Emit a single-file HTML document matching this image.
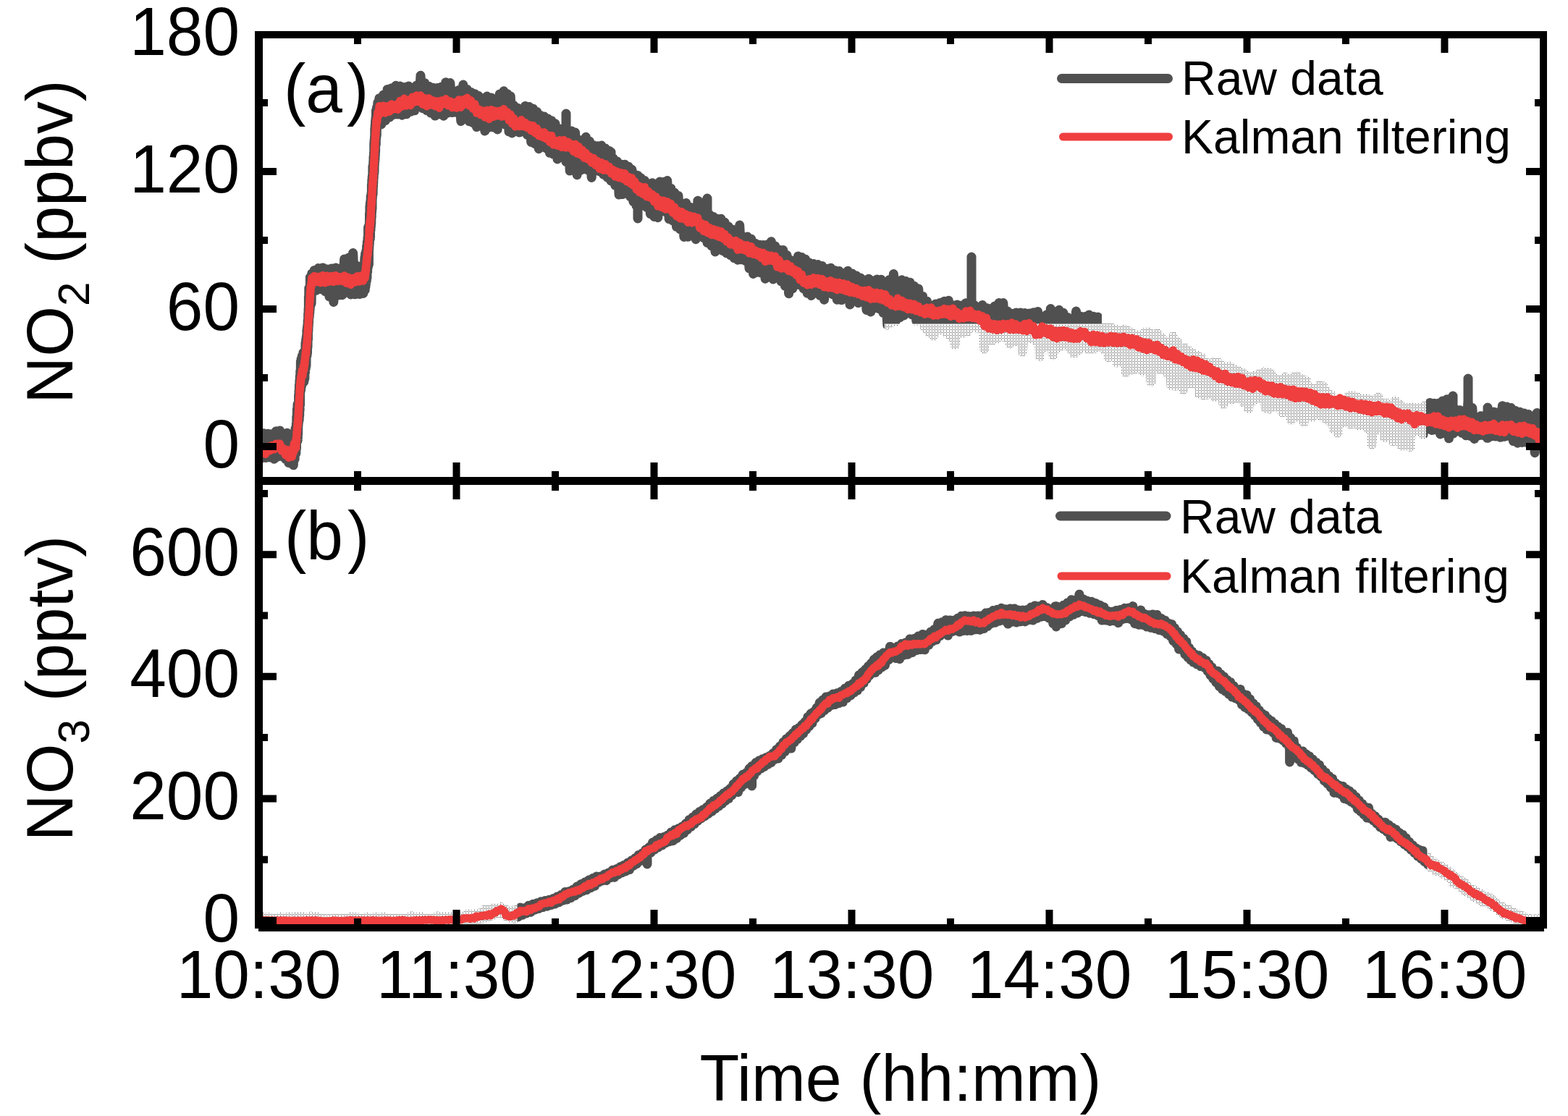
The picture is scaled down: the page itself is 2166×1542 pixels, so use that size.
<!DOCTYPE html>
<html><head><meta charset="utf-8"><title>NO2 / NO3 time series</title>
<style>
html,body{margin:0;padding:0;background:#fff;}
body{width:2166px;height:1542px;overflow:hidden;}
svg{display:block;}
text{font-family:'Liberation Sans',Arial,sans-serif;}
</style></head>
<body>
<svg width="2166" height="1542" viewBox="0 0 2166 1542">
<defs>
<pattern id="dots" x="1" y="3" width="4" height="4" patternUnits="userSpaceOnUse">
<rect x="0" y="0" width="1" height="1" fill="#444444"/>
<rect x="2" y="0" width="1" height="1" fill="#444444"/>
<rect x="2" y="2" width="1" height="1" fill="#444444"/>
</pattern>
<clipPath id="ca"><rect x="363" y="53" width="1764" height="606"/></clipPath>
<clipPath id="cb"><rect x="363" y="670" width="1764" height="607"/></clipPath>
<clipPath id="ca_dark"><path d="M363 53H2127V659H363Z M1222 447H1522V40H1970V670H1222Z" clip-rule="evenodd"/></clipPath>
<clipPath id="ca_dot"><rect x="1222" y="447" width="748" height="212"/></clipPath>
<clipPath id="cb_dark"><rect x="714.5" y="670" width="1256.5" height="607"/></clipPath>
<clipPath id="cb_dot"><path d="M363 670H714.5V1277H363Z M1971 670H2127V1277H1971Z"/></clipPath>
</defs>
<rect width="2166" height="1542" fill="#fff"/>
<g fill="none" stroke-linejoin="round" stroke-linecap="round">
<g clip-path="url(#ca)">
<g clip-path="url(#ca_dark)"><path d="M355.0 635.5L358.0 601.8L361.0 632.9L364.0 598.8L367.0 632.6L369.9 599.2L372.9 632.0L375.9 599.6L378.8 634.3L381.4 595.7L384.0 631.0L386.6 594.9L389.1 630.4L391.7 600.3L394.3 634.3L396.5 598.2L398.7 639.5L401.5 610.2L403.5 641.2L404.4 603.9L405.3 642.8L406.2 599.7L407.1 634.6L408.0 591.9L408.9 626.3L409.3 585.6L409.5 620.4L409.8 576.2L410.1 609.5L410.4 564.8L410.7 609.9L411.0 558.7L411.3 607.9L411.5 563.2L411.7 600.3L411.9 560.5L412.0 588.5L412.2 555.9L412.4 584.3L412.6 545.7L412.8 577.0L413.0 539.8L413.2 580.5L413.4 532.3L413.7 574.5L413.9 525.5L414.1 567.2L414.3 520.0L414.6 559.6L414.8 513.0L415.1 541.2L415.4 499.4L415.7 538.6L416.1 496.1L416.4 534.1L417.2 492.0L418.1 529.4L419.0 487.3L419.8 527.6L420.6 493.9L420.9 523.1L421.3 486.0L421.6 514.6L422.0 473.7L422.3 509.3L422.7 468.7L423.0 505.5L423.3 464.9L423.6 492.8L423.9 456.0L424.1 491.0L424.3 453.4L424.5 488.2L424.8 450.1L425.0 480.0L425.2 442.7L425.5 469.3L425.7 434.0L425.9 457.7L426.1 426.3L426.3 451.4L426.4 409.7L426.6 445.7L426.8 398.0L427.0 439.0L427.2 410.5L427.4 437.4L427.6 405.4L427.8 432.2L428.0 396.9L428.2 427.6L428.4 383.0L428.6 420.4L428.8 387.6L429.1 421.9L429.6 383.4L430.1 419.1L430.6 378.0L431.3 404.6L434.1 373.6L436.9 401.2L439.9 370.6L442.9 399.4L445.9 369.9L448.9 402.5L451.9 371.9L454.9 409.8L457.9 370.9L460.8 417.4L463.8 370.0L466.8 408.0L469.8 370.9L472.7 407.8L475.7 357.9L478.7 402.1L481.6 356.1L484.6 407.0L487.6 349.5L490.6 406.8L493.5 367.5L496.5 406.4L499.5 368.3L501.8 405.5L503.9 355.8L504.3 400.6L504.6 350.6L505.0 396.1L505.3 349.1L505.6 391.9L506.0 346.2L506.3 388.1L506.6 340.2L507.0 384.0L507.3 334.4L507.6 376.0L508.0 328.4L508.3 369.7L508.6 313.8L509.0 365.1L509.2 317.3L509.4 365.6L509.6 314.0L509.8 344.3L510.0 310.3L510.3 338.4L510.5 294.6L510.7 330.5L510.9 284.5L511.1 322.5L511.3 280.6L511.5 329.4L511.8 277.6L512.0 318.3L512.2 270.8L512.4 313.1L512.6 272.2L512.8 308.8L513.0 266.6L513.2 300.5L513.4 255.3L513.6 293.0L513.8 248.7L514.0 289.0L514.2 244.3L514.3 274.7L514.5 242.4L514.7 270.2L514.9 229.7L515.1 268.5L515.3 231.1L515.5 259.9L515.7 224.0L515.8 252.8L516.0 217.2L516.2 246.0L516.4 211.4L516.6 239.6L516.8 197.4L517.0 238.9L517.1 194.1L517.3 228.3L517.5 189.3L517.6 223.8L517.8 178.2L518.0 221.4L518.1 173.4L518.3 215.2L518.5 167.6L518.6 209.9L518.8 165.4L519.0 199.3L519.1 161.7L519.3 199.6L519.5 152.5L519.7 191.6L520.0 151.5L520.3 187.1L520.6 148.3L520.9 175.9L521.8 141.8L522.9 169.2L523.9 135.7L526.7 172.0L529.5 131.1L532.4 166.8L535.2 123.5L538.1 162.1L540.9 121.7L543.8 158.5L546.7 118.3L549.6 158.0L552.5 119.1L555.4 159.2L558.4 120.4L561.3 157.7L564.2 119.1L567.1 154.2L569.8 122.0L572.6 152.8L575.4 118.0L578.2 147.6L581.0 104.3L583.8 149.7L586.6 114.8L589.4 152.6L592.2 119.3L595.0 156.1L597.9 121.3L600.9 160.0L603.9 121.5L606.9 157.8L609.8 119.9L612.8 160.2L615.8 113.7L618.8 155.9L621.8 114.6L624.8 155.5L627.8 126.0L630.8 155.5L633.8 124.5L636.8 167.5L639.8 117.1L642.7 161.7L645.4 123.5L648.0 167.7L650.6 127.4L653.3 169.7L655.9 129.7L658.5 175.6L661.2 132.6L663.9 172.6L666.8 135.9L669.8 181.0L672.7 133.0L675.6 175.9L678.5 134.9L681.4 175.9L684.3 137.2L687.2 178.9L690.1 130.0L693.0 169.9L695.9 125.8L698.6 172.6L700.8 129.7L703.0 182.0L705.2 132.9L707.4 183.9L709.6 145.5L711.9 178.2L714.6 149.3L717.3 183.1L720.1 152.0L722.8 181.6L725.5 146.4L728.3 186.3L731.0 147.6L733.7 196.4L736.5 150.2L739.2 198.8L741.7 154.4L744.3 205.7L746.8 159.5L749.3 199.0L751.8 161.1L754.4 204.9L756.9 164.0L759.4 211.3L761.9 166.7L764.5 213.1L767.0 170.8L770.0 220.0L772.9 177.9L775.9 216.3L778.9 180.0L782.0 223.5L782.0 157.0L782.0 223.5L781.9 223.5L784.7 182.0L787.2 236.1L789.7 181.1L792.1 230.1L794.6 183.0L797.1 241.8L799.5 193.2L802.0 235.3L804.5 193.5L807.0 233.6L809.4 189.3L811.9 235.0L814.5 195.3L817.2 245.4L820.0 200.8L822.7 235.1L825.4 201.8L828.1 236.8L830.9 201.1L833.6 241.2L836.3 205.0L839.0 245.2L841.7 208.4L844.0 250.0L844.0 210.0L844.0 250.0L844.4 250.0L847.1 218.9L849.7 256.0L852.4 222.9L855.1 269.1L857.7 227.0L860.4 268.5L863.1 227.2L865.7 267.3L868.4 230.3L870.8 271.9L872.9 234.2L874.9 278.7L877.0 241.2L879.0 284.2L881.0 242.5L881.0 302.0L881.0 242.5L881.1 242.5L883.1 283.6L885.5 246.0L888.1 283.9L890.6 249.6L893.2 286.4L895.8 254.0L898.4 295.6L901.0 252.7L903.6 299.4L906.2 258.3L908.8 300.7L911.4 251.0L914.0 289.0L916.5 251.6L919.1 292.7L921.7 249.5L924.2 302.6L926.8 260.2L929.3 305.0L931.9 266.2L934.5 313.3L937.0 270.4L939.6 316.9L942.2 285.4L944.9 327.4L947.7 280.4L950.4 327.3L953.1 286.2L955.8 322.5L958.5 287.1L961.2 330.7L963.9 277.2L966.6 324.6L969.3 279.9L972.0 328.7L974.6 282.8L977.0 335.5L977.0 274.0L977.0 335.5L977.3 335.5L980.0 296.4L982.6 339.7L985.3 299.4L988.0 347.9L990.6 302.2L993.3 340.8L996.0 302.2L998.6 346.6L1001.2 307.3L1003.7 349.8L1006.3 312.9L1008.9 352.6L1011.4 316.9L1014.0 356.5L1016.6 317.8L1019.1 359.2L1021.7 311.0L1024.3 358.8L1026.9 329.1L1029.6 360.4L1032.3 326.9L1035.0 370.8L1037.8 330.2L1040.5 378.5L1043.2 336.2L1046.0 376.3L1048.8 338.2L1051.5 377.1L1054.3 338.5L1057.1 385.2L1059.8 337.9L1062.6 378.8L1065.4 333.7L1068.1 386.0L1070.8 339.9L1073.6 377.0L1076.3 345.3L1079.1 388.8L1081.8 345.6L1084.4 395.2L1087.0 352.6L1089.6 405.8L1092.2 359.6L1094.8 398.9L1097.4 360.8L1099.9 393.8L1102.5 353.9L1105.0 393.7L1107.6 355.5L1110.1 398.9L1112.7 358.3L1115.2 405.2L1117.9 363.0L1120.8 408.5L1123.8 364.5L1126.7 403.9L1129.7 365.6L1132.6 408.3L1135.6 367.4L1138.5 414.2L1141.5 371.6L1144.4 404.8L1147.4 370.2L1150.3 406.9L1153.3 373.8L1156.3 414.2L1159.3 374.6L1162.2 414.6L1165.2 377.8L1168.2 411.9L1171.2 374.2L1174.1 421.0L1177.0 378.0L1179.9 409.8L1182.7 381.0L1185.6 418.5L1188.4 384.0L1191.3 416.6L1194.2 387.1L1197.0 428.4L1199.9 385.2L1202.8 430.9L1205.6 388.0L1208.5 425.7L1211.4 385.9L1214.3 426.7L1217.1 386.2L1220.0 432.3L1222.9 390.8L1225.8 449.3L1228.7 386.4L1231.5 445.5L1234.4 378.6L1237.2 444.1L1240.0 387.8L1242.9 438.8L1245.7 386.8L1248.6 436.0L1251.4 388.5L1254.2 430.9L1257.1 390.2L1259.9 435.0L1262.8 395.3L1265.8 443.4L1268.7 398.9L1271.7 442.5L1274.6 409.5L1277.6 453.6L1280.5 416.2L1283.5 460.1L1286.4 422.5L1289.4 464.2L1292.4 419.9L1295.4 456.7L1298.3 418.4L1301.3 454.4L1304.3 416.2L1307.3 460.2L1310.3 415.2L1313.3 465.4L1316.3 421.8L1319.3 476.7L1322.2 421.0L1325.2 461.1L1328.2 421.9L1331.2 460.0L1334.2 418.7L1337.2 458.1L1340.2 417.7L1342.0 447.9L1342.0 355.0L1342.0 447.9L1343.0 447.9L1345.8 421.8L1348.6 453.0L1351.4 425.3L1354.2 453.9L1357.0 421.6L1359.8 482.2L1362.6 425.5L1365.4 470.4L1368.2 426.4L1371.1 470.5L1374.1 422.9L1377.0 467.9L1379.9 418.6L1382.9 464.1L1385.8 418.6L1388.8 466.2L1391.7 430.0L1394.7 475.2L1397.6 433.2L1400.6 471.5L1403.6 432.0L1406.6 472.6L1409.6 431.9L1412.6 486.2L1415.6 432.4L1418.6 465.8L1421.6 433.0L1424.6 468.6L1427.6 431.7L1430.6 470.7L1433.5 430.4L1436.5 493.0L1439.5 437.7L1442.4 479.9L1445.4 435.1L1448.4 476.4L1451.3 426.5L1454.3 490.9L1457.2 431.1L1460.1 481.6L1463.0 428.3L1465.9 478.2L1468.9 432.3L1471.8 475.9L1474.7 438.4L1477.6 481.6L1480.5 443.6L1483.5 488.6L1486.5 430.0L1489.5 484.8L1492.5 437.1L1495.4 480.8L1498.4 437.4L1501.4 481.5L1504.4 435.0L1507.4 482.6L1510.4 437.2L1513.4 481.2L1516.4 437.9L1519.4 477.8L1522.4 447.1L1525.3 482.8L1528.3 450.6L1531.3 493.8L1534.3 452.4L1537.3 489.0L1540.2 454.7L1543.2 501.1L1546.2 457.7L1549.2 498.6L1552.2 455.0L1555.2 514.7L1558.2 457.2L1561.2 511.6L1564.2 459.8L1567.2 510.6L1570.1 463.2L1572.9 501.7L1575.7 464.1L1578.6 512.9L1581.4 459.4L1584.3 506.8L1587.1 459.3L1589.9 527.3L1592.8 462.0L1595.6 509.3L1598.4 460.6L1601.2 509.8L1604.0 466.4L1606.8 510.4L1609.5 472.1L1612.3 515.1L1615.1 470.9L1617.9 532.7L1620.7 464.7L1623.5 533.3L1626.2 472.3L1628.9 518.2L1631.6 481.6L1634.3 538.9L1637.0 481.1L1639.8 530.6L1642.6 485.2L1645.5 530.9L1648.3 488.8L1651.2 529.6L1654.1 491.1L1656.9 544.8L1659.7 494.3L1662.5 546.0L1665.2 500.0L1667.9 545.3L1670.7 504.0L1673.4 544.6L1676.1 500.1L1678.8 548.8L1681.6 500.2L1684.3 543.5L1687.0 504.6L1689.9 558.3L1692.8 506.2L1695.7 546.6L1698.6 506.0L1701.4 552.7L1704.3 509.7L1707.2 550.1L1710.1 512.3L1713.0 551.1L1715.9 514.8L1718.8 556.6L1721.7 518.1L1724.7 564.8L1727.6 521.7L1730.6 553.8L1733.5 518.9L1736.5 549.2L1739.4 516.4L1742.4 551.3L1745.3 514.0L1748.2 564.2L1751.2 514.2L1754.1 565.3L1757.1 517.6L1760.0 549.8L1762.9 523.3L1765.9 563.1L1768.8 526.5L1771.8 570.3L1774.7 521.2L1777.7 569.5L1780.6 522.8L1783.5 580.4L1786.5 521.3L1789.4 576.8L1792.4 520.0L1795.3 557.3L1798.3 523.8L1801.2 583.3L1804.2 526.1L1807.1 564.7L1810.1 535.4L1813.0 575.8L1816.0 537.6L1818.9 568.7L1821.9 532.6L1824.8 574.9L1827.8 533.8L1830.7 578.1L1833.6 541.2L1836.5 581.8L1839.4 546.3L1842.3 592.5L1845.1 552.6L1848.0 598.1L1850.9 551.5L1853.8 584.9L1856.7 554.1L1859.6 582.9L1862.6 547.5L1865.5 586.4L1868.5 547.3L1871.5 585.2L1874.4 548.8L1877.4 587.7L1880.3 550.9L1883.3 585.9L1886.2 550.7L1889.2 592.0L1892.2 551.7L1895.1 614.1L1898.1 553.5L1901.1 594.8L1904.0 548.9L1907.0 586.0L1910.0 557.1L1912.9 604.8L1915.9 557.5L1918.8 599.8L1921.7 558.3L1924.5 609.9L1927.4 554.0L1930.3 609.5L1933.3 558.7L1936.2 616.3L1939.2 562.3L1942.1 605.5L1945.1 563.6L1948.1 617.5L1951.1 562.3L1954.0 596.5L1957.0 563.5L1960.0 595.7L1963.0 562.7L1966.0 600.2L1969.0 560.5L1971.9 592.8L1974.9 556.6L1977.8 594.4L1980.8 557.2L1983.7 593.8L1986.6 557.3L1989.6 599.9L1992.5 554.1L1995.5 598.5L1998.5 551.8L2001.5 605.8L2004.5 563.2L2007.0 599.1L2007.0 547.0L2007.0 599.1L2007.5 599.1L2010.5 565.8L2013.5 595.7L2016.5 566.7L2019.4 598.2L2022.3 571.7L2025.1 601.8L2028.0 553.6L2028.0 523.0L2028.0 553.6L2028.0 553.6L2030.9 602.5L2033.8 563.6L2036.6 606.4L2039.5 576.8L2042.5 601.7L2045.5 574.8L2048.5 601.5L2051.5 575.3L2055.0 605.3L2055.0 563.0L2055.0 605.3L2054.5 605.3L2057.5 572.7L2060.5 602.9L2063.5 569.1L2066.5 603.0L2069.5 569.8L2072.5 604.2L2075.4 560.7L2078.4 603.3L2081.4 561.9L2084.4 602.3L2087.4 563.6L2090.4 609.5L2093.4 567.4L2096.4 612.2L2099.4 569.2L2102.4 611.4L2105.4 570.9L2108.4 611.3L2111.4 572.5L2114.3 614.8L2117.2 575.5L2120.2 625.7L2123.1 570.5L2126.1 609.8L2129.0 572.7L2132.0 618.6L2135.0 574.9" stroke="#505050" stroke-width="13"/></g>
<g clip-path="url(#ca_dot)"><path d="M355.0 635.5L358.0 601.8L361.0 632.9L364.0 598.8L367.0 632.6L369.9 599.2L372.9 632.0L375.9 599.6L378.8 634.3L381.4 595.7L384.0 631.0L386.6 594.9L389.1 630.4L391.7 600.3L394.3 634.3L396.5 598.2L398.7 639.5L401.5 610.2L403.5 641.2L404.4 603.9L405.3 642.8L406.2 599.7L407.1 634.6L408.0 591.9L408.9 626.3L409.3 585.6L409.5 620.4L409.8 576.2L410.1 609.5L410.4 564.8L410.7 609.9L411.0 558.7L411.3 607.9L411.5 563.2L411.7 600.3L411.9 560.5L412.0 588.5L412.2 555.9L412.4 584.3L412.6 545.7L412.8 577.0L413.0 539.8L413.2 580.5L413.4 532.3L413.7 574.5L413.9 525.5L414.1 567.2L414.3 520.0L414.6 559.6L414.8 513.0L415.1 541.2L415.4 499.4L415.7 538.6L416.1 496.1L416.4 534.1L417.2 492.0L418.1 529.4L419.0 487.3L419.8 527.6L420.6 493.9L420.9 523.1L421.3 486.0L421.6 514.6L422.0 473.7L422.3 509.3L422.7 468.7L423.0 505.5L423.3 464.9L423.6 492.8L423.9 456.0L424.1 491.0L424.3 453.4L424.5 488.2L424.8 450.1L425.0 480.0L425.2 442.7L425.5 469.3L425.7 434.0L425.9 457.7L426.1 426.3L426.3 451.4L426.4 409.7L426.6 445.7L426.8 398.0L427.0 439.0L427.2 410.5L427.4 437.4L427.6 405.4L427.8 432.2L428.0 396.9L428.2 427.6L428.4 383.0L428.6 420.4L428.8 387.6L429.1 421.9L429.6 383.4L430.1 419.1L430.6 378.0L431.3 404.6L434.1 373.6L436.9 401.2L439.9 370.6L442.9 399.4L445.9 369.9L448.9 402.5L451.9 371.9L454.9 409.8L457.9 370.9L460.8 417.4L463.8 370.0L466.8 408.0L469.8 370.9L472.7 407.8L475.7 357.9L478.7 402.1L481.6 356.1L484.6 407.0L487.6 349.5L490.6 406.8L493.5 367.5L496.5 406.4L499.5 368.3L501.8 405.5L503.9 355.8L504.3 400.6L504.6 350.6L505.0 396.1L505.3 349.1L505.6 391.9L506.0 346.2L506.3 388.1L506.6 340.2L507.0 384.0L507.3 334.4L507.6 376.0L508.0 328.4L508.3 369.7L508.6 313.8L509.0 365.1L509.2 317.3L509.4 365.6L509.6 314.0L509.8 344.3L510.0 310.3L510.3 338.4L510.5 294.6L510.7 330.5L510.9 284.5L511.1 322.5L511.3 280.6L511.5 329.4L511.8 277.6L512.0 318.3L512.2 270.8L512.4 313.1L512.6 272.2L512.8 308.8L513.0 266.6L513.2 300.5L513.4 255.3L513.6 293.0L513.8 248.7L514.0 289.0L514.2 244.3L514.3 274.7L514.5 242.4L514.7 270.2L514.9 229.7L515.1 268.5L515.3 231.1L515.5 259.9L515.7 224.0L515.8 252.8L516.0 217.2L516.2 246.0L516.4 211.4L516.6 239.6L516.8 197.4L517.0 238.9L517.1 194.1L517.3 228.3L517.5 189.3L517.6 223.8L517.8 178.2L518.0 221.4L518.1 173.4L518.3 215.2L518.5 167.6L518.6 209.9L518.8 165.4L519.0 199.3L519.1 161.7L519.3 199.6L519.5 152.5L519.7 191.6L520.0 151.5L520.3 187.1L520.6 148.3L520.9 175.9L521.8 141.8L522.9 169.2L523.9 135.7L526.7 172.0L529.5 131.1L532.4 166.8L535.2 123.5L538.1 162.1L540.9 121.7L543.8 158.5L546.7 118.3L549.6 158.0L552.5 119.1L555.4 159.2L558.4 120.4L561.3 157.7L564.2 119.1L567.1 154.2L569.8 122.0L572.6 152.8L575.4 118.0L578.2 147.6L581.0 104.3L583.8 149.7L586.6 114.8L589.4 152.6L592.2 119.3L595.0 156.1L597.9 121.3L600.9 160.0L603.9 121.5L606.9 157.8L609.8 119.9L612.8 160.2L615.8 113.7L618.8 155.9L621.8 114.6L624.8 155.5L627.8 126.0L630.8 155.5L633.8 124.5L636.8 167.5L639.8 117.1L642.7 161.7L645.4 123.5L648.0 167.7L650.6 127.4L653.3 169.7L655.9 129.7L658.5 175.6L661.2 132.6L663.9 172.6L666.8 135.9L669.8 181.0L672.7 133.0L675.6 175.9L678.5 134.9L681.4 175.9L684.3 137.2L687.2 178.9L690.1 130.0L693.0 169.9L695.9 125.8L698.6 172.6L700.8 129.7L703.0 182.0L705.2 132.9L707.4 183.9L709.6 145.5L711.9 178.2L714.6 149.3L717.3 183.1L720.1 152.0L722.8 181.6L725.5 146.4L728.3 186.3L731.0 147.6L733.7 196.4L736.5 150.2L739.2 198.8L741.7 154.4L744.3 205.7L746.8 159.5L749.3 199.0L751.8 161.1L754.4 204.9L756.9 164.0L759.4 211.3L761.9 166.7L764.5 213.1L767.0 170.8L770.0 220.0L772.9 177.9L775.9 216.3L778.9 180.0L782.0 223.5L782.0 157.0L782.0 223.5L781.9 223.5L784.7 182.0L787.2 236.1L789.7 181.1L792.1 230.1L794.6 183.0L797.1 241.8L799.5 193.2L802.0 235.3L804.5 193.5L807.0 233.6L809.4 189.3L811.9 235.0L814.5 195.3L817.2 245.4L820.0 200.8L822.7 235.1L825.4 201.8L828.1 236.8L830.9 201.1L833.6 241.2L836.3 205.0L839.0 245.2L841.7 208.4L844.0 250.0L844.0 210.0L844.0 250.0L844.4 250.0L847.1 218.9L849.7 256.0L852.4 222.9L855.1 269.1L857.7 227.0L860.4 268.5L863.1 227.2L865.7 267.3L868.4 230.3L870.8 271.9L872.9 234.2L874.9 278.7L877.0 241.2L879.0 284.2L881.0 242.5L881.0 302.0L881.0 242.5L881.1 242.5L883.1 283.6L885.5 246.0L888.1 283.9L890.6 249.6L893.2 286.4L895.8 254.0L898.4 295.6L901.0 252.7L903.6 299.4L906.2 258.3L908.8 300.7L911.4 251.0L914.0 289.0L916.5 251.6L919.1 292.7L921.7 249.5L924.2 302.6L926.8 260.2L929.3 305.0L931.9 266.2L934.5 313.3L937.0 270.4L939.6 316.9L942.2 285.4L944.9 327.4L947.7 280.4L950.4 327.3L953.1 286.2L955.8 322.5L958.5 287.1L961.2 330.7L963.9 277.2L966.6 324.6L969.3 279.9L972.0 328.7L974.6 282.8L977.0 335.5L977.0 274.0L977.0 335.5L977.3 335.5L980.0 296.4L982.6 339.7L985.3 299.4L988.0 347.9L990.6 302.2L993.3 340.8L996.0 302.2L998.6 346.6L1001.2 307.3L1003.7 349.8L1006.3 312.9L1008.9 352.6L1011.4 316.9L1014.0 356.5L1016.6 317.8L1019.1 359.2L1021.7 311.0L1024.3 358.8L1026.9 329.1L1029.6 360.4L1032.3 326.9L1035.0 370.8L1037.8 330.2L1040.5 378.5L1043.2 336.2L1046.0 376.3L1048.8 338.2L1051.5 377.1L1054.3 338.5L1057.1 385.2L1059.8 337.9L1062.6 378.8L1065.4 333.7L1068.1 386.0L1070.8 339.9L1073.6 377.0L1076.3 345.3L1079.1 388.8L1081.8 345.6L1084.4 395.2L1087.0 352.6L1089.6 405.8L1092.2 359.6L1094.8 398.9L1097.4 360.8L1099.9 393.8L1102.5 353.9L1105.0 393.7L1107.6 355.5L1110.1 398.9L1112.7 358.3L1115.2 405.2L1117.9 363.0L1120.8 408.5L1123.8 364.5L1126.7 403.9L1129.7 365.6L1132.6 408.3L1135.6 367.4L1138.5 414.2L1141.5 371.6L1144.4 404.8L1147.4 370.2L1150.3 406.9L1153.3 373.8L1156.3 414.2L1159.3 374.6L1162.2 414.6L1165.2 377.8L1168.2 411.9L1171.2 374.2L1174.1 421.0L1177.0 378.0L1179.9 409.8L1182.7 381.0L1185.6 418.5L1188.4 384.0L1191.3 416.6L1194.2 387.1L1197.0 428.4L1199.9 385.2L1202.8 430.9L1205.6 388.0L1208.5 425.7L1211.4 385.9L1214.3 426.7L1217.1 386.2L1220.0 432.3L1222.9 390.8L1225.8 449.3L1228.7 386.4L1231.5 445.5L1234.4 378.6L1237.2 444.1L1240.0 387.8L1242.9 438.8L1245.7 386.8L1248.6 436.0L1251.4 388.5L1254.2 430.9L1257.1 390.2L1259.9 435.0L1262.8 395.3L1265.8 443.4L1268.7 398.9L1271.7 442.5L1274.6 409.5L1277.6 453.6L1280.5 416.2L1283.5 460.1L1286.4 422.5L1289.4 464.2L1292.4 419.9L1295.4 456.7L1298.3 418.4L1301.3 454.4L1304.3 416.2L1307.3 460.2L1310.3 415.2L1313.3 465.4L1316.3 421.8L1319.3 476.7L1322.2 421.0L1325.2 461.1L1328.2 421.9L1331.2 460.0L1334.2 418.7L1337.2 458.1L1340.2 417.7L1342.0 447.9L1342.0 355.0L1342.0 447.9L1343.0 447.9L1345.8 421.8L1348.6 453.0L1351.4 425.3L1354.2 453.9L1357.0 421.6L1359.8 482.2L1362.6 425.5L1365.4 470.4L1368.2 426.4L1371.1 470.5L1374.1 422.9L1377.0 467.9L1379.9 418.6L1382.9 464.1L1385.8 418.6L1388.8 466.2L1391.7 430.0L1394.7 475.2L1397.6 433.2L1400.6 471.5L1403.6 432.0L1406.6 472.6L1409.6 431.9L1412.6 486.2L1415.6 432.4L1418.6 465.8L1421.6 433.0L1424.6 468.6L1427.6 431.7L1430.6 470.7L1433.5 430.4L1436.5 493.0L1439.5 437.7L1442.4 479.9L1445.4 435.1L1448.4 476.4L1451.3 426.5L1454.3 490.9L1457.2 431.1L1460.1 481.6L1463.0 428.3L1465.9 478.2L1468.9 432.3L1471.8 475.9L1474.7 438.4L1477.6 481.6L1480.5 443.6L1483.5 488.6L1486.5 430.0L1489.5 484.8L1492.5 437.1L1495.4 480.8L1498.4 437.4L1501.4 481.5L1504.4 435.0L1507.4 482.6L1510.4 437.2L1513.4 481.2L1516.4 437.9L1519.4 477.8L1522.4 447.1L1525.3 482.8L1528.3 450.6L1531.3 493.8L1534.3 452.4L1537.3 489.0L1540.2 454.7L1543.2 501.1L1546.2 457.7L1549.2 498.6L1552.2 455.0L1555.2 514.7L1558.2 457.2L1561.2 511.6L1564.2 459.8L1567.2 510.6L1570.1 463.2L1572.9 501.7L1575.7 464.1L1578.6 512.9L1581.4 459.4L1584.3 506.8L1587.1 459.3L1589.9 527.3L1592.8 462.0L1595.6 509.3L1598.4 460.6L1601.2 509.8L1604.0 466.4L1606.8 510.4L1609.5 472.1L1612.3 515.1L1615.1 470.9L1617.9 532.7L1620.7 464.7L1623.5 533.3L1626.2 472.3L1628.9 518.2L1631.6 481.6L1634.3 538.9L1637.0 481.1L1639.8 530.6L1642.6 485.2L1645.5 530.9L1648.3 488.8L1651.2 529.6L1654.1 491.1L1656.9 544.8L1659.7 494.3L1662.5 546.0L1665.2 500.0L1667.9 545.3L1670.7 504.0L1673.4 544.6L1676.1 500.1L1678.8 548.8L1681.6 500.2L1684.3 543.5L1687.0 504.6L1689.9 558.3L1692.8 506.2L1695.7 546.6L1698.6 506.0L1701.4 552.7L1704.3 509.7L1707.2 550.1L1710.1 512.3L1713.0 551.1L1715.9 514.8L1718.8 556.6L1721.7 518.1L1724.7 564.8L1727.6 521.7L1730.6 553.8L1733.5 518.9L1736.5 549.2L1739.4 516.4L1742.4 551.3L1745.3 514.0L1748.2 564.2L1751.2 514.2L1754.1 565.3L1757.1 517.6L1760.0 549.8L1762.9 523.3L1765.9 563.1L1768.8 526.5L1771.8 570.3L1774.7 521.2L1777.7 569.5L1780.6 522.8L1783.5 580.4L1786.5 521.3L1789.4 576.8L1792.4 520.0L1795.3 557.3L1798.3 523.8L1801.2 583.3L1804.2 526.1L1807.1 564.7L1810.1 535.4L1813.0 575.8L1816.0 537.6L1818.9 568.7L1821.9 532.6L1824.8 574.9L1827.8 533.8L1830.7 578.1L1833.6 541.2L1836.5 581.8L1839.4 546.3L1842.3 592.5L1845.1 552.6L1848.0 598.1L1850.9 551.5L1853.8 584.9L1856.7 554.1L1859.6 582.9L1862.6 547.5L1865.5 586.4L1868.5 547.3L1871.5 585.2L1874.4 548.8L1877.4 587.7L1880.3 550.9L1883.3 585.9L1886.2 550.7L1889.2 592.0L1892.2 551.7L1895.1 614.1L1898.1 553.5L1901.1 594.8L1904.0 548.9L1907.0 586.0L1910.0 557.1L1912.9 604.8L1915.9 557.5L1918.8 599.8L1921.7 558.3L1924.5 609.9L1927.4 554.0L1930.3 609.5L1933.3 558.7L1936.2 616.3L1939.2 562.3L1942.1 605.5L1945.1 563.6L1948.1 617.5L1951.1 562.3L1954.0 596.5L1957.0 563.5L1960.0 595.7L1963.0 562.7L1966.0 600.2L1969.0 560.5L1971.9 592.8L1974.9 556.6L1977.8 594.4L1980.8 557.2L1983.7 593.8L1986.6 557.3L1989.6 599.9L1992.5 554.1L1995.5 598.5L1998.5 551.8L2001.5 605.8L2004.5 563.2L2007.0 599.1L2007.0 547.0L2007.0 599.1L2007.5 599.1L2010.5 565.8L2013.5 595.7L2016.5 566.7L2019.4 598.2L2022.3 571.7L2025.1 601.8L2028.0 553.6L2028.0 523.0L2028.0 553.6L2028.0 553.6L2030.9 602.5L2033.8 563.6L2036.6 606.4L2039.5 576.8L2042.5 601.7L2045.5 574.8L2048.5 601.5L2051.5 575.3L2055.0 605.3L2055.0 563.0L2055.0 605.3L2054.5 605.3L2057.5 572.7L2060.5 602.9L2063.5 569.1L2066.5 603.0L2069.5 569.8L2072.5 604.2L2075.4 560.7L2078.4 603.3L2081.4 561.9L2084.4 602.3L2087.4 563.6L2090.4 609.5L2093.4 567.4L2096.4 612.2L2099.4 569.2L2102.4 611.4L2105.4 570.9L2108.4 611.3L2111.4 572.5L2114.3 614.8L2117.2 575.5L2120.2 625.7L2123.1 570.5L2126.1 609.8L2129.0 572.7L2132.0 618.6L2135.0 574.9" stroke="url(#dots)" stroke-width="13"/></g>
<path d="M355.0 624.9L358.0 617.2L361.0 626.3L364.0 617.5L367.0 627.4L369.9 616.9L372.9 622.9L375.9 615.3L378.8 621.0L381.4 612.9L384.0 618.9L386.6 612.7L389.1 623.3L391.7 619.4L394.3 628.9L396.5 621.5L398.7 632.5L401.5 623.2L403.5 631.2L404.4 618.6L405.3 625.3L406.2 612.7L407.1 621.1L408.0 609.4L408.9 618.6L409.3 604.0L409.5 611.5L409.8 596.9L410.1 601.8L410.4 591.0L410.7 595.9L411.0 583.7L411.3 589.6L411.5 578.9L411.7 586.1L411.9 574.7L412.0 581.9L412.2 568.8L412.4 573.7L412.6 561.4L412.8 566.3L413.0 554.9L413.2 559.8L413.4 548.8L413.7 550.3L413.9 538.6L414.1 544.0L414.3 531.8L414.6 538.8L414.8 526.7L415.1 532.7L415.4 521.6L415.7 528.9L416.1 518.0L416.4 521.8L417.2 511.8L418.1 519.2L419.0 506.2L419.8 511.1L420.6 498.6L420.9 504.9L421.3 492.8L421.6 497.1L422.0 487.0L422.3 491.7L422.7 482.8L423.0 489.7L423.3 476.5L423.6 481.7L423.9 471.4L424.1 476.9L424.3 467.4L424.5 473.1L424.8 460.0L425.0 466.3L425.2 452.9L425.5 459.1L425.7 446.4L425.9 452.2L426.1 438.5L426.3 444.8L426.4 434.2L426.6 438.7L426.8 429.8L427.0 438.5L427.2 423.8L427.4 430.2L427.6 415.4L427.8 420.1L428.0 408.8L428.2 416.6L428.4 402.6L428.6 409.8L428.8 396.8L429.1 403.0L429.6 391.9L430.1 395.5L430.6 384.0L431.3 390.9L434.1 381.2L436.9 389.7L439.9 382.1L442.9 390.9L445.9 380.4L448.9 391.0L451.9 381.1L454.9 389.4L457.9 381.2L460.8 389.6L463.8 380.5L466.8 388.7L469.8 382.4L472.7 388.7L475.7 380.7L478.7 391.4L481.6 383.1L484.6 393.5L487.6 384.2L490.6 390.0L493.5 381.4L496.5 389.2L499.5 380.4L501.8 388.2L503.9 378.1L504.3 384.1L504.6 374.2L505.0 378.9L505.3 368.3L505.6 374.6L506.0 360.1L506.3 366.8L506.6 355.3L507.0 361.0L507.3 349.3L507.6 354.6L508.0 343.2L508.3 351.6L508.6 336.8L509.0 344.4L509.2 332.8L509.4 335.8L509.6 325.4L509.8 329.0L510.0 316.2L510.3 321.0L510.5 309.5L510.7 319.3L510.9 306.8L511.1 314.5L511.3 303.6L511.5 312.1L511.8 300.4L512.0 307.7L512.2 293.8L512.4 300.9L512.6 286.5L512.8 290.6L513.0 278.5L513.2 284.7L513.4 274.5L513.6 280.3L513.8 266.3L514.0 272.1L514.2 258.5L514.3 263.6L514.5 252.5L514.7 260.5L514.9 250.0L515.1 255.2L515.3 243.9L515.5 249.4L515.7 240.3L515.8 245.5L516.0 235.9L516.2 237.4L516.4 224.3L516.6 229.8L516.8 219.3L517.0 225.6L517.1 212.0L517.3 217.4L517.5 204.3L517.6 211.4L517.8 198.9L518.0 205.6L518.1 192.9L518.3 195.7L518.5 185.7L518.6 191.8L518.8 181.1L519.0 187.6L519.1 176.5L519.3 183.5L519.5 168.6L519.7 178.5L520.0 165.1L520.3 170.4L520.6 163.0L520.9 168.9L521.8 155.2L522.9 160.2L523.9 146.4L526.7 156.1L529.5 146.0L532.4 156.2L535.2 146.4L538.1 154.3L540.9 143.7L543.8 151.2L546.7 144.5L549.6 151.4L552.5 139.2L555.4 147.4L558.4 136.0L561.3 146.2L564.2 138.3L567.1 145.8L569.8 133.9L572.6 141.3L575.4 131.8L578.2 140.6L581.0 131.7L583.8 144.2L586.6 135.4L589.4 146.9L592.2 135.7L595.0 145.0L597.9 138.5L600.9 146.9L603.9 139.7L606.9 149.5L609.8 138.8L612.8 143.4L615.8 136.6L618.8 145.9L621.8 139.8L624.8 148.8L627.8 141.4L630.8 149.3L633.8 137.7L636.8 148.4L639.8 137.4L642.7 144.3L645.4 135.1L648.0 146.1L650.6 138.7L653.3 150.4L655.9 143.4L658.5 156.3L661.2 150.8L663.9 158.7L666.8 152.8L669.8 162.0L672.7 152.3L675.6 164.7L678.5 151.4L681.4 161.6L684.3 153.1L687.2 160.1L690.1 153.0L693.0 161.2L695.9 150.6L698.6 160.1L700.8 154.7L703.0 166.4L705.2 158.1L707.4 171.0L709.6 163.3L711.9 175.1L714.6 168.0L717.3 174.8L720.1 165.5L722.8 174.8L725.5 169.3L728.3 176.7L731.0 172.5L733.7 180.7L736.5 173.3L739.2 183.9L741.7 177.2L744.3 187.9L746.8 182.8L749.3 189.5L751.8 182.6L754.4 192.0L756.9 186.6L759.4 196.4L761.9 187.4L764.5 200.2L767.0 194.2L770.0 201.5L772.9 193.4L775.9 203.6L778.9 193.3L781.9 204.3L784.7 195.9L787.2 204.4L789.7 199.1L792.1 209.3L794.6 199.2L797.1 212.3L799.5 202.6L802.0 214.1L804.5 206.9L807.0 218.3L809.4 211.3L811.9 220.2L814.5 216.1L817.2 224.9L820.0 218.3L822.7 228.4L825.4 222.2L828.1 233.5L830.9 224.5L833.6 235.4L836.3 226.5L839.0 235.6L841.7 230.2L844.4 240.0L847.1 234.4L849.7 244.3L852.4 236.8L855.1 245.8L857.7 238.5L860.4 247.4L863.1 239.4L865.7 250.8L868.4 244.2L870.8 253.7L872.9 245.8L874.9 256.4L877.0 250.6L879.0 261.9L881.1 256.0L883.1 265.7L885.5 258.1L888.1 268.4L890.6 258.4L893.2 272.0L895.8 264.1L898.4 273.4L901.0 268.1L903.6 279.1L906.2 271.8L908.8 285.1L911.4 276.2L914.0 286.7L916.5 277.0L919.1 289.2L921.7 278.6L924.2 289.4L926.8 281.3L929.3 294.2L931.9 285.9L934.5 298.8L937.0 291.2L939.6 302.1L942.2 292.6L944.9 303.0L947.7 295.8L950.4 307.4L953.1 297.9L955.8 308.1L958.5 299.1L961.2 307.2L963.9 300.8L966.6 315.2L969.3 308.4L972.0 319.6L974.6 310.2L977.3 321.7L980.0 314.4L982.6 324.6L985.3 316.5L988.0 325.4L990.6 318.0L993.3 327.8L996.0 319.5L998.6 329.7L1001.2 323.3L1003.7 334.0L1006.3 328.0L1008.9 338.0L1011.4 332.6L1014.0 339.3L1016.6 332.3L1019.1 345.4L1021.7 335.4L1024.3 345.0L1026.9 338.1L1029.6 346.4L1032.3 338.6L1035.0 350.2L1037.8 340.6L1040.5 351.4L1043.2 345.8L1046.0 353.0L1048.8 348.0L1051.5 356.6L1054.3 349.1L1057.1 361.6L1059.8 352.0L1062.6 360.2L1065.4 353.0L1068.1 361.1L1070.8 354.0L1073.6 369.1L1076.3 359.0L1079.1 371.2L1081.8 364.8L1084.4 371.3L1087.0 364.4L1089.6 374.7L1092.2 367.7L1094.8 376.4L1097.4 372.0L1099.9 380.3L1102.5 374.6L1105.0 387.0L1107.6 379.0L1110.1 391.2L1112.7 385.9L1115.2 394.0L1117.9 385.6L1120.8 393.5L1123.8 383.6L1126.7 391.7L1129.7 384.3L1132.6 393.6L1135.6 385.2L1138.5 397.1L1141.5 388.6L1144.4 397.9L1147.4 387.6L1150.3 398.3L1153.3 389.7L1156.3 400.8L1159.3 390.3L1162.2 400.2L1165.2 391.5L1168.2 402.2L1171.2 393.1L1174.1 404.3L1177.0 396.2L1179.9 405.0L1182.7 398.2L1185.6 406.7L1188.4 400.9L1191.3 409.3L1194.2 401.2L1197.0 411.0L1199.9 400.4L1202.8 413.4L1205.6 403.8L1208.5 412.9L1211.4 404.1L1214.3 413.5L1217.1 405.0L1220.0 415.2L1222.9 406.6L1225.8 418.5L1228.7 412.8L1231.5 422.1L1234.4 416.6L1237.2 423.9L1240.0 411.9L1242.9 423.4L1245.7 414.9L1248.6 424.8L1251.4 418.1L1254.2 427.7L1257.1 418.9L1259.9 427.9L1262.8 420.1L1265.8 429.8L1268.7 423.1L1271.7 431.9L1274.6 427.0L1277.6 434.5L1280.5 425.0L1283.5 433.8L1286.4 424.8L1289.4 436.3L1292.4 429.2L1295.4 436.0L1298.3 428.7L1301.3 434.4L1304.3 426.2L1307.3 434.5L1310.3 427.0L1313.3 437.5L1316.3 426.1L1319.3 436.6L1322.2 431.1L1325.2 440.6L1328.2 433.9L1331.2 440.0L1334.2 429.8L1337.2 438.9L1340.2 429.1L1343.0 439.6L1345.8 433.7L1348.6 440.4L1351.4 434.3L1354.2 443.6L1357.0 436.6L1359.8 450.8L1362.6 439.2L1365.4 453.9L1368.2 446.4L1371.1 455.2L1374.1 447.5L1377.0 456.4L1379.9 448.0L1382.9 455.6L1385.8 447.1L1388.8 453.4L1391.7 447.4L1394.7 455.5L1397.6 445.8L1400.6 455.8L1403.6 447.8L1406.6 455.7L1409.6 450.3L1412.6 456.9L1415.6 447.2L1418.6 457.6L1421.6 446.2L1424.6 456.4L1427.6 450.4L1430.6 463.1L1433.5 455.8L1436.5 462.5L1439.5 450.7L1442.4 460.1L1445.4 453.5L1448.4 462.6L1451.3 453.7L1454.3 465.9L1457.2 456.7L1460.1 468.0L1463.0 456.9L1465.9 466.0L1468.9 456.3L1471.8 466.2L1474.7 457.6L1477.6 467.6L1480.5 459.4L1483.5 468.6L1486.5 460.4L1489.5 468.2L1492.5 457.5L1495.4 464.3L1498.4 458.2L1501.4 467.9L1504.4 463.5L1507.4 472.9L1510.4 462.1L1513.4 473.0L1516.4 462.9L1519.4 473.7L1522.4 464.0L1525.3 474.2L1528.3 465.7L1531.3 473.4L1534.3 464.1L1537.3 473.7L1540.2 464.6L1543.2 474.3L1546.2 465.8L1549.2 473.9L1552.2 464.9L1555.2 473.6L1558.2 466.7L1561.2 477.0L1564.2 467.1L1567.2 476.8L1570.1 468.4L1572.9 480.4L1575.7 471.2L1578.6 482.1L1581.4 472.7L1584.3 484.0L1587.1 473.6L1589.9 482.3L1592.8 477.1L1595.6 484.4L1598.4 476.1L1601.2 486.1L1604.0 480.3L1606.8 490.8L1609.5 483.2L1612.3 492.4L1615.1 486.3L1617.9 493.4L1620.7 483.8L1623.5 496.9L1626.2 488.7L1628.9 498.3L1631.6 492.2L1634.3 500.6L1637.0 495.5L1639.8 504.3L1642.6 497.7L1645.5 507.7L1648.3 496.6L1651.2 508.8L1654.1 498.0L1656.9 509.8L1659.7 501.1L1662.5 512.6L1665.2 503.1L1667.9 513.4L1670.7 506.4L1673.4 515.9L1676.1 511.1L1678.8 520.2L1681.6 512.9L1684.3 524.1L1687.0 517.0L1689.9 524.6L1692.8 516.1L1695.7 527.6L1698.6 520.9L1701.4 528.7L1704.3 521.3L1707.2 530.4L1710.1 520.2L1713.0 530.9L1715.9 521.9L1718.8 533.0L1721.7 527.1L1724.7 535.6L1727.6 525.8L1730.6 537.5L1733.5 525.2L1736.5 534.1L1739.4 526.1L1742.4 537.2L1745.3 530.1L1748.2 541.0L1751.2 532.3L1754.1 541.2L1757.1 532.7L1760.0 544.2L1762.9 535.0L1765.9 544.8L1768.8 534.6L1771.8 545.1L1774.7 536.9L1777.7 545.7L1780.6 538.1L1783.5 548.8L1786.5 537.9L1789.4 550.7L1792.4 540.3L1795.3 549.9L1798.3 540.5L1801.2 549.3L1804.2 541.1L1807.1 551.2L1810.1 542.2L1813.0 553.9L1816.0 544.2L1818.9 556.3L1821.9 548.2L1824.8 559.2L1827.8 548.6L1830.7 559.1L1833.6 548.4L1836.5 559.2L1839.4 551.7L1842.3 558.1L1845.1 552.2L1848.0 560.9L1850.9 549.8L1853.8 560.2L1856.7 552.1L1859.6 562.1L1862.6 553.7L1865.5 564.2L1868.5 554.9L1871.5 563.8L1874.4 557.8L1877.4 565.8L1880.3 557.5L1883.3 567.2L1886.2 558.1L1889.2 568.5L1892.2 559.1L1895.1 569.9L1898.1 560.4L1901.1 568.8L1904.0 559.4L1907.0 568.6L1910.0 561.9L1912.9 571.6L1915.9 561.9L1918.8 571.9L1921.7 562.7L1924.5 574.3L1927.4 567.6L1930.3 577.9L1933.3 569.8L1936.2 580.0L1939.2 571.4L1942.1 577.4L1945.1 570.9L1948.1 581.1L1951.1 574.8L1954.0 586.6L1957.0 573.4L1960.0 582.9L1963.0 574.4L1966.0 582.1L1969.0 576.9L1971.9 584.0L1974.9 577.0L1977.8 584.0L1980.8 574.8L1983.7 586.3L1986.6 575.1L1989.6 587.2L1992.5 579.4L1995.5 589.0L1998.5 581.6L2001.5 591.0L2004.5 581.0L2007.5 588.9L2010.5 580.8L2013.5 591.4L2016.5 579.2L2019.4 589.3L2022.3 579.0L2025.1 589.3L2028.0 581.6L2030.9 591.7L2033.8 583.1L2036.6 594.7L2039.5 586.4L2042.5 594.6L2045.5 588.6L2048.5 596.3L2051.5 587.0L2054.5 594.6L2057.5 587.2L2060.5 594.1L2063.5 585.1L2066.5 595.6L2069.5 589.3L2072.5 597.0L2075.4 586.7L2078.4 597.6L2081.4 587.1L2084.4 592.8L2087.4 586.5L2090.4 596.4L2093.4 590.0L2096.4 598.1L2099.4 588.6L2102.4 599.5L2105.4 588.0L2108.4 597.4L2111.4 590.6L2114.3 599.6L2117.2 591.5L2120.2 602.2L2123.1 596.4L2126.1 608.5L2129.0 596.7L2132.0 602.6L2135.0 593.7" stroke="#EF3F3F" stroke-width="11"/>
</g>
<g clip-path="url(#cb)">
<g clip-path="url(#cb_dark)"><path d="M355.0 1276.2L358.0 1267.3L361.0 1276.7L364.0 1267.1L367.0 1275.8L370.0 1267.7L373.0 1276.4L376.0 1268.3L379.0 1275.5L382.0 1268.0L385.0 1275.7L388.0 1267.6L391.0 1275.4L394.0 1267.6L397.0 1276.6L400.0 1267.4L403.1 1276.4L406.1 1267.2L409.1 1274.6L412.1 1266.2L415.1 1274.8L418.1 1266.9L421.1 1275.4L424.1 1268.0L427.1 1275.5L430.1 1266.1L433.1 1277.1L436.1 1266.5L439.1 1277.4L442.1 1268.3L445.1 1277.1L448.1 1269.1L451.1 1277.1L454.1 1269.3L457.1 1277.6L460.1 1269.0L463.1 1276.9L466.1 1268.7L469.1 1277.1L472.1 1269.2L475.1 1277.3L478.1 1269.0L481.1 1275.2L484.1 1266.6L487.1 1275.5L490.1 1267.6L493.2 1277.4L496.2 1268.0L499.2 1277.4L502.2 1267.9L505.2 1278.3L508.2 1267.6L511.2 1276.5L514.2 1267.8L517.2 1276.0L520.2 1267.5L523.2 1275.6L526.2 1267.6L529.2 1277.2L532.2 1267.5L535.2 1275.7L538.2 1268.7L541.2 1277.6L544.2 1268.7L547.2 1277.5L550.2 1268.8L553.2 1278.1L556.2 1269.1L559.2 1278.1L562.2 1268.1L565.2 1277.1L568.2 1265.8L571.2 1277.2L574.2 1267.7L577.2 1277.0L580.2 1266.3L583.2 1275.3L586.3 1268.4L589.3 1276.1L592.3 1269.0L595.3 1275.9L598.3 1268.6L601.3 1274.7L604.3 1265.8L607.3 1275.9L610.3 1267.1L613.3 1275.8L616.3 1266.6L619.3 1275.0L622.3 1266.6L625.3 1275.2L628.3 1266.7L631.3 1277.1L634.3 1265.9L637.3 1275.5L640.3 1265.9L643.3 1274.9L646.2 1263.2L649.2 1273.0L652.2 1263.8L655.1 1271.4L658.0 1262.9L660.8 1270.8L663.7 1261.6L666.6 1269.2L669.5 1256.7L672.4 1267.8L675.2 1256.5L678.1 1265.4L681.0 1254.5L683.9 1263.7L686.7 1255.0L689.6 1261.9L692.5 1253.6L695.5 1262.2L697.4 1256.1L699.0 1266.1L701.3 1258.2L704.3 1267.4L707.3 1257.9L710.3 1269.5L713.2 1257.0L716.0 1266.7L718.8 1254.0L721.6 1264.3L724.4 1254.8L727.3 1262.0L730.2 1251.2L733.1 1260.3L736.0 1249.3L738.8 1257.2L741.7 1247.8L744.5 1255.5L747.3 1245.7L750.1 1253.6L752.9 1244.5L755.8 1252.2L758.6 1243.2L761.5 1250.4L764.3 1241.5L767.0 1249.0L769.7 1239.0L772.5 1246.7L775.2 1236.4L777.8 1244.1L780.5 1232.4L783.1 1243.0L785.8 1231.8L788.6 1240.5L791.3 1229.3L794.1 1237.5L796.8 1225.1L799.6 1234.1L802.4 1221.8L805.1 1231.3L807.9 1219.1L810.6 1229.6L813.3 1216.1L816.0 1226.6L818.7 1213.6L821.5 1224.3L824.2 1211.0L826.9 1219.2L829.6 1210.9L832.3 1216.8L835.1 1207.9L837.8 1216.5L840.5 1206.0L843.2 1212.7L846.0 1202.3L848.7 1212.2L851.4 1200.7L854.1 1208.3L856.7 1197.8L859.2 1205.7L861.8 1195.4L864.4 1203.9L867.0 1192.2L869.5 1201.6L872.1 1189.1L874.7 1196.4L877.2 1185.8L879.7 1193.6L882.1 1181.5L884.5 1189.6L886.9 1179.0L889.3 1184.9L891.8 1174.1L894.0 1182.6L894.0 1194.0L894.0 1182.6L894.2 1182.6L896.6 1170.6L899.0 1178.1L901.6 1164.0L904.1 1173.9L906.7 1160.8L909.2 1170.8L911.7 1157.6L914.3 1168.0L916.8 1156.6L919.4 1164.8L921.9 1154.2L924.5 1162.7L927.0 1149.9L929.6 1161.7L932.1 1146.8L934.7 1158.4L937.2 1144.8L939.7 1154.2L942.1 1142.2L944.6 1151.2L947.1 1138.0L949.6 1146.4L952.1 1132.7L954.5 1142.2L956.9 1129.2L959.2 1138.5L961.6 1125.1L964.0 1134.2L966.3 1121.6L968.7 1130.6L971.1 1118.7L973.5 1127.7L976.0 1115.3L978.4 1124.4L980.8 1110.2L983.3 1121.1L985.7 1106.4L988.2 1117.5L990.5 1103.3L992.8 1113.9L995.1 1099.7L997.4 1110.6L999.6 1095.9L1001.9 1106.6L1004.2 1093.1L1006.5 1103.4L1008.7 1089.4L1010.8 1098.9L1013.0 1083.5L1015.2 1094.5L1017.3 1079.2L1019.5 1094.5L1021.6 1075.8L1023.8 1087.9L1026.0 1070.3L1028.2 1083.8L1030.5 1068.0L1032.7 1080.1L1034.9 1062.0L1037.2 1076.3L1038.6 1058.5L1038.6 1086.0L1038.6 1058.5L1039.4 1058.5L1041.6 1071.6L1043.9 1053.8L1046.1 1065.7L1048.5 1050.9L1050.9 1062.0L1053.4 1048.7L1055.8 1059.3L1058.2 1046.7L1060.7 1056.1L1063.1 1044.5L1065.5 1053.4L1067.8 1040.8L1070.2 1049.2L1072.5 1035.8L1074.9 1048.1L1077.2 1031.3L1079.6 1043.3L1081.9 1025.5L1084.2 1038.4L1086.3 1020.9L1088.5 1034.4L1090.7 1017.1L1092.8 1034.1L1095.0 1013.0L1097.2 1025.8L1099.3 1007.9L1101.5 1021.3L1103.5 1005.7L1105.6 1017.1L1107.6 1001.6L1109.7 1013.5L1111.7 997.6L1113.8 1008.1L1115.8 990.7L1117.9 1003.6L1119.9 986.0L1122.0 999.1L1124.0 983.5L1126.1 992.6L1128.1 977.9L1130.2 987.4L1132.2 970.9L1134.3 985.6L1136.3 967.3L1138.6 981.7L1141.0 962.9L1143.4 978.0L1145.8 962.1L1148.2 974.5L1150.7 958.9L1153.5 973.5L1156.3 957.8L1159.0 971.5L1161.7 955.6L1164.4 970.1L1167.1 951.2L1169.8 964.7L1172.4 947.6L1175.1 960.8L1177.6 945.0L1179.8 956.9L1182.0 940.0L1184.3 954.0L1186.5 932.9L1188.7 949.3L1190.9 929.1L1193.2 943.9L1195.3 925.1L1197.3 938.3L1199.3 920.7L1201.2 933.2L1203.2 916.5L1205.2 929.6L1207.2 911.2L1209.1 929.4L1211.1 908.0L1213.2 925.7L1215.5 904.7L1217.9 922.0L1220.2 902.0L1222.5 919.2L1224.9 901.8L1227.2 912.0L1229.5 893.4L1232.0 908.3L1234.7 895.2L1237.4 909.6L1240.0 893.0L1242.7 910.5L1245.3 889.6L1248.0 905.4L1250.9 888.0L1253.8 904.3L1256.8 882.9L1259.8 901.7L1262.7 882.4L1265.7 898.6L1268.6 878.9L1271.5 897.6L1274.4 876.5L1277.3 897.8L1280.2 877.2L1282.8 891.4L1285.4 873.3L1288.0 886.3L1290.5 869.8L1293.2 884.2L1295.8 861.3L1298.5 878.7L1301.2 859.8L1303.8 875.4L1306.5 856.7L1309.4 878.1L1312.3 856.9L1315.2 872.7L1318.1 857.0L1320.6 871.3L1323.0 854.3L1325.4 873.0L1327.8 851.3L1330.2 871.6L1332.9 850.7L1335.9 871.6L1338.9 851.6L1341.9 871.4L1344.9 851.0L1347.8 869.8L1350.7 850.9L1353.6 870.3L1356.5 850.8L1359.1 868.5L1361.6 847.0L1364.2 865.4L1366.7 846.2L1369.2 861.6L1371.9 843.6L1374.7 860.3L1377.6 842.3L1380.4 858.0L1383.3 840.3L1386.3 857.1L1389.3 841.8L1392.3 862.0L1395.3 841.0L1398.2 859.2L1401.1 841.0L1404.1 860.0L1407.0 843.1L1409.9 858.8L1412.9 843.1L1415.9 858.9L1418.9 842.4L1421.5 856.4L1424.2 839.1L1426.9 857.0L1429.5 836.9L1432.2 854.4L1434.8 837.8L1437.5 852.3L1440.3 835.6L1443.2 851.6L1446.1 839.5L1449.0 854.1L1451.9 841.5L1454.8 861.6L1459.0 837.7L1459.0 866.0L1459.0 837.7L1457.7 837.7L1460.6 859.6L1463.5 839.1L1466.3 861.5L1469.0 836.3L1471.7 857.0L1474.5 832.9L1477.2 852.0L1479.9 828.8L1482.7 849.3L1485.4 829.4L1488.1 847.0L1490.9 821.2L1493.7 844.6L1496.6 827.9L1499.5 845.5L1502.4 830.3L1505.3 847.2L1508.1 831.3L1510.9 848.4L1513.7 833.6L1516.5 850.5L1519.3 836.2L1522.1 857.0L1524.9 838.8L1527.6 857.0L1530.4 844.3L1533.2 858.4L1536.1 845.2L1539.0 857.8L1541.9 843.4L1544.8 860.6L1547.7 842.4L1550.6 855.6L1553.5 840.3L1556.4 854.5L1559.3 839.9L1562.1 855.8L1564.8 837.6L1567.6 861.7L1570.3 845.4L1573.1 863.3L1575.8 843.1L1578.6 863.4L1581.3 848.3L1584.0 865.9L1586.7 849.7L1589.5 867.3L1592.2 848.9L1595.2 868.5L1598.1 849.5L1601.0 870.6L1603.9 854.5L1606.6 872.0L1609.2 857.1L1611.9 876.0L1614.5 861.3L1616.6 879.1L1618.6 862.6L1620.6 885.4L1622.6 867.9L1624.6 889.4L1626.6 872.9L1628.6 897.0L1630.7 877.8L1632.7 897.3L1634.8 882.3L1636.8 904.0L1638.8 886.7L1640.8 908.3L1642.7 895.2L1644.6 911.8L1646.5 899.9L1648.4 915.1L1650.5 903.9L1653.2 917.8L1655.9 905.7L1658.5 920.6L1661.2 908.8L1663.9 922.5L1666.3 912.6L1668.2 927.4L1670.1 917.7L1672.0 933.1L1673.9 921.8L1675.8 938.0L1677.7 926.4L1679.8 942.9L1682.0 927.3L1684.2 948.4L1686.4 931.6L1688.6 952.6L1690.8 935.1L1693.0 955.5L1695.2 939.8L1697.4 959.2L1699.7 942.7L1702.0 963.1L1704.2 948.0L1706.5 964.8L1708.7 952.8L1711.0 967.0L1713.2 952.5L1715.5 973.7L1717.7 958.9L1719.9 977.4L1722.2 960.5L1724.4 980.1L1726.6 966.0L1728.9 984.1L1731.1 972.0L1733.3 988.5L1735.3 976.0L1737.4 993.9L1739.4 981.3L1741.4 998.7L1743.5 985.9L1745.5 1004.2L1747.6 988.4L1749.6 1008.0L1751.8 993.3L1754.0 1008.8L1756.3 996.1L1758.5 1012.2L1760.8 1000.1L1763.1 1019.5L1765.3 1004.3L1767.6 1020.2L1769.8 1007.0L1772.0 1022.8L1774.2 1011.6L1776.3 1027.2L1778.5 1012.3L1781.6 1032.7L1781.6 1053.0L1781.6 1032.7L1780.7 1032.7L1782.8 1019.6L1785.0 1038.9L1787.2 1023.8L1789.2 1045.0L1791.3 1033.0L1793.3 1049.0L1795.3 1037.5L1797.4 1053.3L1799.4 1037.9L1801.7 1054.4L1804.0 1042.0L1806.3 1057.0L1808.7 1044.9L1811.0 1060.9L1813.3 1049.2L1815.7 1064.4L1818.0 1053.4L1820.2 1069.2L1822.5 1057.0L1824.7 1072.7L1826.9 1063.1L1829.2 1078.7L1831.4 1067.3L1833.6 1082.9L1835.9 1072.3L1838.2 1088.0L1840.6 1075.9L1843.0 1095.4L1845.3 1082.4L1847.7 1095.7L1850.1 1085.3L1852.4 1097.9L1854.8 1086.4L1857.1 1103.5L1859.4 1090.1L1861.7 1105.0L1864.0 1092.8L1866.2 1107.9L1868.5 1096.6L1870.8 1110.8L1873.1 1101.1L1875.3 1117.8L1877.4 1105.8L1879.6 1121.3L1881.8 1110.5L1884.0 1125.5L1886.1 1115.1L1888.3 1130.0L1890.5 1116.2L1892.7 1130.7L1895.0 1124.1L1897.3 1133.9L1899.5 1127.6L1901.8 1138.0L1904.1 1132.0L1906.3 1142.7L1908.6 1136.0L1911.0 1145.6L1913.5 1136.3L1915.9 1149.3L1918.4 1139.7L1920.9 1156.4L1923.3 1143.3L1925.8 1156.0L1928.2 1146.0L1930.5 1159.0L1932.9 1150.4L1935.2 1163.0L1937.6 1153.3L1939.9 1166.8L1942.2 1157.7L1944.6 1170.2L1946.9 1163.3L1949.2 1174.3L1951.5 1167.8L1953.8 1178.5L1956.1 1171.9L1958.4 1183.0L1960.7 1174.2L1963.0 1186.6L1965.3 1175.7L1967.7 1190.5L1970.0 1182.0L1972.3 1194.4L1974.6 1186.8L1976.9 1198.7L1979.6 1191.0L1982.2 1202.6L1984.8 1193.8L1987.5 1204.6L1990.1 1196.6L1992.7 1207.2L1995.2 1199.5L1997.6 1209.8L2000.0 1202.8L2002.4 1212.9L2004.8 1207.3L2007.2 1220.1L2009.6 1210.9L2012.0 1221.7L2014.4 1214.9L2016.9 1225.6L2019.3 1217.4L2021.7 1229.5L2024.1 1220.8L2026.5 1232.7L2029.0 1225.3L2031.6 1235.9L2034.1 1228.8L2036.7 1239.8L2039.3 1231.4L2041.8 1242.0L2044.4 1234.7L2047.0 1245.6L2049.5 1237.7L2052.1 1246.6L2054.7 1238.9L2057.3 1249.2L2059.9 1241.7L2062.4 1252.4L2065.0 1246.8L2067.5 1255.9L2070.1 1249.8L2072.6 1259.9L2075.2 1253.0L2077.7 1263.7L2080.4 1256.2L2083.1 1265.9L2085.8 1257.6L2088.5 1267.5L2091.3 1260.7L2094.0 1270.4L2096.7 1263.3L2099.5 1275.2L2102.3 1265.2L2105.1 1275.3L2108.0 1268.9L2111.0 1277.9L2114.0 1269.5L2117.0 1277.7L2120.0 1269.7L2123.0 1278.1L2126.0 1269.5L2129.0 1278.3L2132.0 1270.0L2135.0 1278.5" stroke="#505050" stroke-width="13"/></g>
<g clip-path="url(#cb_dot)"><path d="M355.0 1276.2L358.0 1267.3L361.0 1276.7L364.0 1267.1L367.0 1275.8L370.0 1267.7L373.0 1276.4L376.0 1268.3L379.0 1275.5L382.0 1268.0L385.0 1275.7L388.0 1267.6L391.0 1275.4L394.0 1267.6L397.0 1276.6L400.0 1267.4L403.1 1276.4L406.1 1267.2L409.1 1274.6L412.1 1266.2L415.1 1274.8L418.1 1266.9L421.1 1275.4L424.1 1268.0L427.1 1275.5L430.1 1266.1L433.1 1277.1L436.1 1266.5L439.1 1277.4L442.1 1268.3L445.1 1277.1L448.1 1269.1L451.1 1277.1L454.1 1269.3L457.1 1277.6L460.1 1269.0L463.1 1276.9L466.1 1268.7L469.1 1277.1L472.1 1269.2L475.1 1277.3L478.1 1269.0L481.1 1275.2L484.1 1266.6L487.1 1275.5L490.1 1267.6L493.2 1277.4L496.2 1268.0L499.2 1277.4L502.2 1267.9L505.2 1278.3L508.2 1267.6L511.2 1276.5L514.2 1267.8L517.2 1276.0L520.2 1267.5L523.2 1275.6L526.2 1267.6L529.2 1277.2L532.2 1267.5L535.2 1275.7L538.2 1268.7L541.2 1277.6L544.2 1268.7L547.2 1277.5L550.2 1268.8L553.2 1278.1L556.2 1269.1L559.2 1278.1L562.2 1268.1L565.2 1277.1L568.2 1265.8L571.2 1277.2L574.2 1267.7L577.2 1277.0L580.2 1266.3L583.2 1275.3L586.3 1268.4L589.3 1276.1L592.3 1269.0L595.3 1275.9L598.3 1268.6L601.3 1274.7L604.3 1265.8L607.3 1275.9L610.3 1267.1L613.3 1275.8L616.3 1266.6L619.3 1275.0L622.3 1266.6L625.3 1275.2L628.3 1266.7L631.3 1277.1L634.3 1265.9L637.3 1275.5L640.3 1265.9L643.3 1274.9L646.2 1263.2L649.2 1273.0L652.2 1263.8L655.1 1271.4L658.0 1262.9L660.8 1270.8L663.7 1261.6L666.6 1269.2L669.5 1256.7L672.4 1267.8L675.2 1256.5L678.1 1265.4L681.0 1254.5L683.9 1263.7L686.7 1255.0L689.6 1261.9L692.5 1253.6L695.5 1262.2L697.4 1256.1L699.0 1266.1L701.3 1258.2L704.3 1267.4L707.3 1257.9L710.3 1269.5L713.2 1257.0L716.0 1266.7L718.8 1254.0L721.6 1264.3L724.4 1254.8L727.3 1262.0L730.2 1251.2L733.1 1260.3L736.0 1249.3L738.8 1257.2L741.7 1247.8L744.5 1255.5L747.3 1245.7L750.1 1253.6L752.9 1244.5L755.8 1252.2L758.6 1243.2L761.5 1250.4L764.3 1241.5L767.0 1249.0L769.7 1239.0L772.5 1246.7L775.2 1236.4L777.8 1244.1L780.5 1232.4L783.1 1243.0L785.8 1231.8L788.6 1240.5L791.3 1229.3L794.1 1237.5L796.8 1225.1L799.6 1234.1L802.4 1221.8L805.1 1231.3L807.9 1219.1L810.6 1229.6L813.3 1216.1L816.0 1226.6L818.7 1213.6L821.5 1224.3L824.2 1211.0L826.9 1219.2L829.6 1210.9L832.3 1216.8L835.1 1207.9L837.8 1216.5L840.5 1206.0L843.2 1212.7L846.0 1202.3L848.7 1212.2L851.4 1200.7L854.1 1208.3L856.7 1197.8L859.2 1205.7L861.8 1195.4L864.4 1203.9L867.0 1192.2L869.5 1201.6L872.1 1189.1L874.7 1196.4L877.2 1185.8L879.7 1193.6L882.1 1181.5L884.5 1189.6L886.9 1179.0L889.3 1184.9L891.8 1174.1L894.0 1182.6L894.0 1194.0L894.0 1182.6L894.2 1182.6L896.6 1170.6L899.0 1178.1L901.6 1164.0L904.1 1173.9L906.7 1160.8L909.2 1170.8L911.7 1157.6L914.3 1168.0L916.8 1156.6L919.4 1164.8L921.9 1154.2L924.5 1162.7L927.0 1149.9L929.6 1161.7L932.1 1146.8L934.7 1158.4L937.2 1144.8L939.7 1154.2L942.1 1142.2L944.6 1151.2L947.1 1138.0L949.6 1146.4L952.1 1132.7L954.5 1142.2L956.9 1129.2L959.2 1138.5L961.6 1125.1L964.0 1134.2L966.3 1121.6L968.7 1130.6L971.1 1118.7L973.5 1127.7L976.0 1115.3L978.4 1124.4L980.8 1110.2L983.3 1121.1L985.7 1106.4L988.2 1117.5L990.5 1103.3L992.8 1113.9L995.1 1099.7L997.4 1110.6L999.6 1095.9L1001.9 1106.6L1004.2 1093.1L1006.5 1103.4L1008.7 1089.4L1010.8 1098.9L1013.0 1083.5L1015.2 1094.5L1017.3 1079.2L1019.5 1094.5L1021.6 1075.8L1023.8 1087.9L1026.0 1070.3L1028.2 1083.8L1030.5 1068.0L1032.7 1080.1L1034.9 1062.0L1037.2 1076.3L1038.6 1058.5L1038.6 1086.0L1038.6 1058.5L1039.4 1058.5L1041.6 1071.6L1043.9 1053.8L1046.1 1065.7L1048.5 1050.9L1050.9 1062.0L1053.4 1048.7L1055.8 1059.3L1058.2 1046.7L1060.7 1056.1L1063.1 1044.5L1065.5 1053.4L1067.8 1040.8L1070.2 1049.2L1072.5 1035.8L1074.9 1048.1L1077.2 1031.3L1079.6 1043.3L1081.9 1025.5L1084.2 1038.4L1086.3 1020.9L1088.5 1034.4L1090.7 1017.1L1092.8 1034.1L1095.0 1013.0L1097.2 1025.8L1099.3 1007.9L1101.5 1021.3L1103.5 1005.7L1105.6 1017.1L1107.6 1001.6L1109.7 1013.5L1111.7 997.6L1113.8 1008.1L1115.8 990.7L1117.9 1003.6L1119.9 986.0L1122.0 999.1L1124.0 983.5L1126.1 992.6L1128.1 977.9L1130.2 987.4L1132.2 970.9L1134.3 985.6L1136.3 967.3L1138.6 981.7L1141.0 962.9L1143.4 978.0L1145.8 962.1L1148.2 974.5L1150.7 958.9L1153.5 973.5L1156.3 957.8L1159.0 971.5L1161.7 955.6L1164.4 970.1L1167.1 951.2L1169.8 964.7L1172.4 947.6L1175.1 960.8L1177.6 945.0L1179.8 956.9L1182.0 940.0L1184.3 954.0L1186.5 932.9L1188.7 949.3L1190.9 929.1L1193.2 943.9L1195.3 925.1L1197.3 938.3L1199.3 920.7L1201.2 933.2L1203.2 916.5L1205.2 929.6L1207.2 911.2L1209.1 929.4L1211.1 908.0L1213.2 925.7L1215.5 904.7L1217.9 922.0L1220.2 902.0L1222.5 919.2L1224.9 901.8L1227.2 912.0L1229.5 893.4L1232.0 908.3L1234.7 895.2L1237.4 909.6L1240.0 893.0L1242.7 910.5L1245.3 889.6L1248.0 905.4L1250.9 888.0L1253.8 904.3L1256.8 882.9L1259.8 901.7L1262.7 882.4L1265.7 898.6L1268.6 878.9L1271.5 897.6L1274.4 876.5L1277.3 897.8L1280.2 877.2L1282.8 891.4L1285.4 873.3L1288.0 886.3L1290.5 869.8L1293.2 884.2L1295.8 861.3L1298.5 878.7L1301.2 859.8L1303.8 875.4L1306.5 856.7L1309.4 878.1L1312.3 856.9L1315.2 872.7L1318.1 857.0L1320.6 871.3L1323.0 854.3L1325.4 873.0L1327.8 851.3L1330.2 871.6L1332.9 850.7L1335.9 871.6L1338.9 851.6L1341.9 871.4L1344.9 851.0L1347.8 869.8L1350.7 850.9L1353.6 870.3L1356.5 850.8L1359.1 868.5L1361.6 847.0L1364.2 865.4L1366.7 846.2L1369.2 861.6L1371.9 843.6L1374.7 860.3L1377.6 842.3L1380.4 858.0L1383.3 840.3L1386.3 857.1L1389.3 841.8L1392.3 862.0L1395.3 841.0L1398.2 859.2L1401.1 841.0L1404.1 860.0L1407.0 843.1L1409.9 858.8L1412.9 843.1L1415.9 858.9L1418.9 842.4L1421.5 856.4L1424.2 839.1L1426.9 857.0L1429.5 836.9L1432.2 854.4L1434.8 837.8L1437.5 852.3L1440.3 835.6L1443.2 851.6L1446.1 839.5L1449.0 854.1L1451.9 841.5L1454.8 861.6L1459.0 837.7L1459.0 866.0L1459.0 837.7L1457.7 837.7L1460.6 859.6L1463.5 839.1L1466.3 861.5L1469.0 836.3L1471.7 857.0L1474.5 832.9L1477.2 852.0L1479.9 828.8L1482.7 849.3L1485.4 829.4L1488.1 847.0L1490.9 821.2L1493.7 844.6L1496.6 827.9L1499.5 845.5L1502.4 830.3L1505.3 847.2L1508.1 831.3L1510.9 848.4L1513.7 833.6L1516.5 850.5L1519.3 836.2L1522.1 857.0L1524.9 838.8L1527.6 857.0L1530.4 844.3L1533.2 858.4L1536.1 845.2L1539.0 857.8L1541.9 843.4L1544.8 860.6L1547.7 842.4L1550.6 855.6L1553.5 840.3L1556.4 854.5L1559.3 839.9L1562.1 855.8L1564.8 837.6L1567.6 861.7L1570.3 845.4L1573.1 863.3L1575.8 843.1L1578.6 863.4L1581.3 848.3L1584.0 865.9L1586.7 849.7L1589.5 867.3L1592.2 848.9L1595.2 868.5L1598.1 849.5L1601.0 870.6L1603.9 854.5L1606.6 872.0L1609.2 857.1L1611.9 876.0L1614.5 861.3L1616.6 879.1L1618.6 862.6L1620.6 885.4L1622.6 867.9L1624.6 889.4L1626.6 872.9L1628.6 897.0L1630.7 877.8L1632.7 897.3L1634.8 882.3L1636.8 904.0L1638.8 886.7L1640.8 908.3L1642.7 895.2L1644.6 911.8L1646.5 899.9L1648.4 915.1L1650.5 903.9L1653.2 917.8L1655.9 905.7L1658.5 920.6L1661.2 908.8L1663.9 922.5L1666.3 912.6L1668.2 927.4L1670.1 917.7L1672.0 933.1L1673.9 921.8L1675.8 938.0L1677.7 926.4L1679.8 942.9L1682.0 927.3L1684.2 948.4L1686.4 931.6L1688.6 952.6L1690.8 935.1L1693.0 955.5L1695.2 939.8L1697.4 959.2L1699.7 942.7L1702.0 963.1L1704.2 948.0L1706.5 964.8L1708.7 952.8L1711.0 967.0L1713.2 952.5L1715.5 973.7L1717.7 958.9L1719.9 977.4L1722.2 960.5L1724.4 980.1L1726.6 966.0L1728.9 984.1L1731.1 972.0L1733.3 988.5L1735.3 976.0L1737.4 993.9L1739.4 981.3L1741.4 998.7L1743.5 985.9L1745.5 1004.2L1747.6 988.4L1749.6 1008.0L1751.8 993.3L1754.0 1008.8L1756.3 996.1L1758.5 1012.2L1760.8 1000.1L1763.1 1019.5L1765.3 1004.3L1767.6 1020.2L1769.8 1007.0L1772.0 1022.8L1774.2 1011.6L1776.3 1027.2L1778.5 1012.3L1781.6 1032.7L1781.6 1053.0L1781.6 1032.7L1780.7 1032.7L1782.8 1019.6L1785.0 1038.9L1787.2 1023.8L1789.2 1045.0L1791.3 1033.0L1793.3 1049.0L1795.3 1037.5L1797.4 1053.3L1799.4 1037.9L1801.7 1054.4L1804.0 1042.0L1806.3 1057.0L1808.7 1044.9L1811.0 1060.9L1813.3 1049.2L1815.7 1064.4L1818.0 1053.4L1820.2 1069.2L1822.5 1057.0L1824.7 1072.7L1826.9 1063.1L1829.2 1078.7L1831.4 1067.3L1833.6 1082.9L1835.9 1072.3L1838.2 1088.0L1840.6 1075.9L1843.0 1095.4L1845.3 1082.4L1847.7 1095.7L1850.1 1085.3L1852.4 1097.9L1854.8 1086.4L1857.1 1103.5L1859.4 1090.1L1861.7 1105.0L1864.0 1092.8L1866.2 1107.9L1868.5 1096.6L1870.8 1110.8L1873.1 1101.1L1875.3 1117.8L1877.4 1105.8L1879.6 1121.3L1881.8 1110.5L1884.0 1125.5L1886.1 1115.1L1888.3 1130.0L1890.5 1116.2L1892.7 1130.7L1895.0 1124.1L1897.3 1133.9L1899.5 1127.6L1901.8 1138.0L1904.1 1132.0L1906.3 1142.7L1908.6 1136.0L1911.0 1145.6L1913.5 1136.3L1915.9 1149.3L1918.4 1139.7L1920.9 1156.4L1923.3 1143.3L1925.8 1156.0L1928.2 1146.0L1930.5 1159.0L1932.9 1150.4L1935.2 1163.0L1937.6 1153.3L1939.9 1166.8L1942.2 1157.7L1944.6 1170.2L1946.9 1163.3L1949.2 1174.3L1951.5 1167.8L1953.8 1178.5L1956.1 1171.9L1958.4 1183.0L1960.7 1174.2L1963.0 1186.6L1965.3 1175.7L1967.7 1190.5L1970.0 1182.0L1972.3 1194.4L1974.6 1186.8L1976.9 1198.7L1979.6 1191.0L1982.2 1202.6L1984.8 1193.8L1987.5 1204.6L1990.1 1196.6L1992.7 1207.2L1995.2 1199.5L1997.6 1209.8L2000.0 1202.8L2002.4 1212.9L2004.8 1207.3L2007.2 1220.1L2009.6 1210.9L2012.0 1221.7L2014.4 1214.9L2016.9 1225.6L2019.3 1217.4L2021.7 1229.5L2024.1 1220.8L2026.5 1232.7L2029.0 1225.3L2031.6 1235.9L2034.1 1228.8L2036.7 1239.8L2039.3 1231.4L2041.8 1242.0L2044.4 1234.7L2047.0 1245.6L2049.5 1237.7L2052.1 1246.6L2054.7 1238.9L2057.3 1249.2L2059.9 1241.7L2062.4 1252.4L2065.0 1246.8L2067.5 1255.9L2070.1 1249.8L2072.6 1259.9L2075.2 1253.0L2077.7 1263.7L2080.4 1256.2L2083.1 1265.9L2085.8 1257.6L2088.5 1267.5L2091.3 1260.7L2094.0 1270.4L2096.7 1263.3L2099.5 1275.2L2102.3 1265.2L2105.1 1275.3L2108.0 1268.9L2111.0 1277.9L2114.0 1269.5L2117.0 1277.7L2120.0 1269.7L2123.0 1278.1L2126.0 1269.5L2129.0 1278.3L2132.0 1270.0L2135.0 1278.5" stroke="url(#dots)" stroke-width="13"/></g>
<path d="M355.0 1271.7L358.0 1271.0L361.0 1272.0L364.0 1271.3L367.0 1271.9L370.0 1271.5L373.0 1272.2L376.0 1271.6L379.0 1272.4L382.0 1271.7L385.0 1272.2L388.0 1271.6L391.0 1271.9L394.0 1271.8L397.0 1272.3L400.0 1271.9L403.1 1272.6L406.1 1271.8L409.1 1272.5L412.1 1271.8L415.1 1272.5L418.1 1271.9L421.1 1272.2L424.1 1271.6L427.1 1272.1L430.1 1271.6L433.1 1272.0L436.1 1271.6L439.1 1272.4L442.1 1272.1L445.1 1272.9L448.1 1272.7L451.1 1273.1L454.1 1272.4L457.1 1272.5L460.1 1271.8L463.1 1272.3L466.1 1271.9L469.1 1272.9L472.1 1272.1L475.1 1272.4L478.1 1271.8L481.1 1272.1L484.1 1271.4L487.1 1272.2L490.1 1271.5L493.2 1272.2L496.2 1271.6L499.2 1272.0L502.2 1271.6L505.2 1271.9L508.2 1271.6L511.2 1272.3L514.2 1271.5L517.2 1272.1L520.2 1271.8L523.2 1272.4L526.2 1271.9L529.2 1272.4L532.2 1271.7L535.2 1272.2L538.2 1271.7L541.2 1272.5L544.2 1272.0L547.2 1272.5L550.2 1271.5L553.2 1271.8L556.2 1271.1L559.2 1272.0L562.2 1272.0L565.2 1272.6L568.2 1272.0L571.2 1272.1L574.2 1271.5L577.2 1271.9L580.2 1271.5L583.2 1271.9L586.3 1271.0L589.3 1271.4L592.3 1270.8L595.3 1271.3L598.3 1271.0L601.3 1271.9L604.3 1271.5L607.3 1272.1L610.3 1271.3L613.3 1271.7L616.3 1270.8L619.3 1271.4L622.3 1270.5L625.3 1271.2L628.3 1270.4L631.3 1271.1L634.3 1270.6L637.3 1270.9L640.3 1268.7L643.3 1269.0L646.2 1268.3L649.2 1269.4L652.2 1268.0L655.1 1269.1L658.0 1265.9L660.8 1267.1L663.7 1265.4L666.6 1265.7L669.5 1264.4L672.4 1265.4L675.2 1263.2L678.1 1264.9L681.0 1261.6L683.9 1261.3L686.7 1258.2L689.6 1257.9L692.5 1255.9L695.5 1258.0L697.4 1260.3L699.0 1265.1L701.3 1265.4L704.3 1266.6L707.3 1264.8L710.3 1265.3L713.2 1261.6L716.0 1261.8L718.8 1258.4L721.6 1259.6L724.4 1258.3L727.3 1259.7L730.2 1255.6L733.1 1257.4L736.0 1254.8L738.8 1255.1L741.7 1252.9L744.5 1252.8L747.3 1249.2L750.1 1248.8L752.9 1247.7L755.8 1247.7L758.6 1245.9L761.5 1247.3L764.3 1244.2L767.0 1244.3L769.7 1241.9L772.5 1242.9L775.2 1238.9L777.8 1239.1L780.5 1235.7L783.1 1235.3L785.8 1233.5L788.6 1233.3L791.3 1231.7L794.1 1232.3L796.8 1229.9L799.6 1230.5L802.4 1228.1L805.1 1227.3L807.9 1224.3L810.6 1224.6L813.3 1221.2L816.0 1223.0L818.7 1219.6L821.5 1220.3L824.2 1216.9L826.9 1216.6L829.6 1213.9L832.3 1214.9L835.1 1212.2L837.8 1211.9L840.5 1209.0L843.2 1207.7L846.0 1205.4L848.7 1205.9L851.4 1203.3L854.1 1204.3L856.7 1200.9L859.2 1201.5L861.8 1198.5L864.4 1199.3L867.0 1195.3L869.5 1195.9L872.1 1192.0L874.7 1191.1L877.2 1188.5L879.7 1188.1L882.1 1185.5L884.5 1185.0L886.9 1181.4L889.3 1181.0L891.8 1175.7L894.2 1176.6L896.6 1173.6L899.0 1173.0L901.6 1172.0L904.1 1171.8L906.7 1167.4L909.2 1167.7L911.7 1165.4L914.3 1164.9L916.8 1163.7L919.4 1162.2L921.9 1157.1L924.5 1156.4L927.0 1153.6L929.6 1154.5L932.1 1150.9L934.7 1152.4L937.2 1147.1L939.7 1146.0L942.1 1144.0L944.6 1142.8L947.1 1140.6L949.6 1141.5L952.1 1139.0L954.5 1138.7L956.9 1135.0L959.2 1134.4L961.6 1131.8L964.0 1132.2L966.3 1129.7L968.7 1130.0L971.1 1125.6L973.5 1125.4L976.0 1121.7L978.4 1120.1L980.8 1116.3L983.3 1116.2L985.7 1112.6L988.2 1112.7L990.5 1110.2L992.8 1109.1L995.1 1105.7L997.4 1105.0L999.6 1102.2L1001.9 1100.4L1004.2 1097.7L1006.5 1097.9L1008.7 1094.4L1010.8 1094.3L1013.0 1091.1L1015.2 1089.7L1017.3 1085.8L1019.5 1084.9L1021.6 1081.5L1023.8 1079.9L1026.0 1076.0L1028.2 1076.2L1030.5 1073.0L1032.7 1073.4L1034.9 1069.8L1037.2 1068.5L1039.4 1064.4L1041.6 1064.0L1043.9 1061.0L1046.1 1061.8L1048.5 1057.6L1050.9 1056.5L1053.4 1052.9L1055.8 1052.6L1058.2 1049.1L1060.7 1048.4L1063.1 1045.2L1065.5 1045.6L1067.8 1044.5L1070.2 1045.0L1072.5 1041.1L1074.9 1040.3L1077.2 1036.0L1079.6 1035.0L1081.9 1029.9L1084.2 1029.3L1086.3 1025.5L1088.5 1025.4L1090.7 1023.0L1092.8 1022.2L1095.0 1019.0L1097.2 1017.6L1099.3 1014.3L1101.5 1013.9L1103.5 1010.9L1105.6 1009.7L1107.6 1006.8L1109.7 1006.6L1111.7 1002.8L1113.8 1003.1L1115.8 999.2L1117.9 997.8L1119.9 993.8L1122.0 993.9L1124.0 989.9L1126.1 988.1L1128.1 984.8L1130.2 984.0L1132.2 980.8L1134.3 980.4L1136.3 976.4L1138.6 974.2L1141.0 971.5L1143.4 972.2L1145.8 967.1L1148.2 967.5L1150.7 964.5L1153.5 964.9L1156.3 963.1L1159.0 964.3L1161.7 960.4L1164.4 960.1L1167.1 957.9L1169.8 958.0L1172.4 954.9L1175.1 955.2L1177.6 952.0L1179.8 950.8L1182.0 948.4L1184.3 948.1L1186.5 943.6L1188.7 944.8L1190.9 940.8L1193.2 940.8L1195.3 937.3L1197.3 935.7L1199.3 931.3L1201.2 929.8L1203.2 926.4L1205.2 925.1L1207.2 922.3L1209.1 921.9L1211.1 919.2L1213.2 920.2L1215.5 915.6L1217.9 915.8L1220.2 910.5L1222.5 908.9L1224.9 905.5L1227.2 903.9L1229.5 901.2L1232.0 902.0L1234.7 900.3L1237.4 900.4L1240.0 898.7L1242.7 897.0L1245.3 892.7L1248.0 893.0L1250.9 889.8L1253.8 892.3L1256.8 890.3L1259.8 891.4L1262.7 889.2L1265.7 890.5L1268.6 889.3L1271.5 890.2L1274.4 889.4L1277.3 890.0L1280.2 887.2L1282.8 886.2L1285.4 882.4L1288.0 882.8L1290.5 879.3L1293.2 880.7L1295.8 876.9L1298.5 876.3L1301.2 874.0L1303.8 872.7L1306.5 870.1L1309.4 871.5L1312.3 868.7L1315.2 869.4L1318.1 867.7L1320.6 866.7L1323.0 863.1L1325.4 863.6L1327.8 860.0L1330.2 858.8L1332.9 856.7L1335.9 858.0L1338.9 857.6L1341.9 859.0L1344.9 857.0L1347.8 860.1L1350.7 858.7L1353.6 861.4L1356.5 860.7L1359.1 861.2L1361.6 857.8L1364.2 857.4L1366.7 854.5L1369.2 854.0L1371.9 851.6L1374.7 851.1L1377.6 848.8L1380.4 850.1L1383.3 846.4L1386.3 849.4L1389.3 848.9L1392.3 849.5L1395.3 848.5L1398.2 850.6L1401.1 849.3L1404.1 851.5L1407.0 850.5L1409.9 853.1L1412.9 850.9L1415.9 853.3L1418.9 851.8L1421.5 851.5L1424.2 848.6L1426.9 848.4L1429.5 846.6L1432.2 846.2L1434.8 842.6L1437.5 843.2L1440.3 840.2L1443.2 842.1L1446.1 841.9L1449.0 844.6L1451.9 845.3L1454.8 848.1L1457.7 848.1L1460.6 849.2L1463.5 848.6L1466.3 848.9L1469.0 846.9L1471.7 847.6L1474.5 843.7L1477.2 843.6L1479.9 840.6L1482.7 840.4L1485.4 837.4L1488.1 838.5L1490.9 835.2L1493.7 837.1L1496.6 836.7L1499.5 839.3L1502.4 839.3L1505.3 841.1L1508.1 841.6L1510.9 844.3L1513.7 843.4L1516.5 846.8L1519.3 844.7L1522.1 847.9L1524.9 847.7L1527.6 850.6L1530.4 850.2L1533.2 851.6L1536.1 850.6L1539.0 850.8L1541.9 850.1L1544.8 852.1L1547.7 849.1L1550.6 850.0L1553.5 846.4L1556.4 846.0L1559.3 844.1L1562.1 845.9L1564.8 845.1L1567.6 848.9L1570.3 848.9L1573.1 851.9L1575.8 852.0L1578.6 854.5L1581.3 853.4L1584.0 855.5L1586.7 856.9L1589.5 859.4L1592.2 859.8L1595.2 862.2L1598.1 861.6L1601.0 863.0L1603.9 861.5L1606.6 864.2L1609.2 864.0L1611.9 866.8L1614.5 867.6L1616.6 870.2L1618.6 870.8L1620.6 875.0L1622.6 875.4L1624.6 880.2L1626.6 881.0L1628.6 884.7L1630.7 885.0L1632.7 888.6L1634.8 889.7L1636.8 893.0L1638.8 895.2L1640.8 898.5L1642.7 899.3L1644.6 903.0L1646.5 903.0L1648.4 907.2L1650.5 907.7L1653.2 910.9L1655.9 910.8L1658.5 914.6L1661.2 914.9L1663.9 917.5L1666.3 916.7L1668.2 920.2L1670.1 921.3L1672.0 926.6L1673.9 927.5L1675.8 930.4L1677.7 930.4L1679.8 932.9L1682.0 933.7L1684.2 937.7L1686.4 938.4L1688.6 940.3L1690.8 940.8L1693.0 944.3L1695.2 945.5L1697.4 949.8L1699.7 949.2L1702.0 952.8L1704.2 953.3L1706.5 957.1L1708.7 958.3L1711.0 963.1L1713.2 962.7L1715.5 966.4L1717.7 966.9L1719.9 969.8L1722.2 970.8L1724.4 974.1L1726.6 975.3L1728.9 979.6L1731.1 979.4L1733.3 983.5L1735.3 982.9L1737.4 985.8L1739.4 987.5L1741.4 991.4L1743.5 992.5L1745.5 996.4L1747.6 996.5L1749.6 1000.1L1751.8 1000.8L1754.0 1005.0L1756.3 1004.0L1758.5 1006.8L1760.8 1007.7L1763.1 1010.5L1765.3 1012.2L1767.6 1016.3L1769.8 1016.1L1772.0 1020.0L1774.2 1019.9L1776.3 1023.4L1778.5 1024.2L1780.7 1028.5L1782.8 1029.4L1785.0 1032.8L1787.2 1033.1L1789.2 1035.5L1791.3 1035.8L1793.3 1039.0L1795.3 1039.8L1797.4 1044.2L1799.4 1044.8L1801.7 1049.0L1804.0 1049.7L1806.3 1052.4L1808.7 1052.5L1811.0 1056.3L1813.3 1056.7L1815.7 1060.7L1818.0 1061.4L1820.2 1065.3L1822.5 1066.7L1824.7 1071.3L1826.9 1071.9L1829.2 1075.1L1831.4 1073.9L1833.6 1076.3L1835.9 1077.6L1838.2 1080.1L1840.6 1082.0L1843.0 1085.0L1845.3 1084.6L1847.7 1088.9L1850.1 1088.4L1852.4 1091.9L1854.8 1092.9L1857.1 1095.3L1859.4 1094.7L1861.7 1097.5L1864.0 1098.7L1866.2 1102.7L1868.5 1102.9L1870.8 1106.7L1873.1 1106.8L1875.3 1109.9L1877.4 1111.6L1879.6 1114.4L1881.8 1115.5L1884.0 1119.5L1886.1 1119.7L1888.3 1121.8L1890.5 1122.0L1892.7 1125.6L1895.0 1125.4L1897.3 1130.4L1899.5 1130.7L1901.8 1134.8L1904.1 1135.2L1906.3 1138.6L1908.6 1140.1L1911.0 1143.5L1913.5 1144.3L1915.9 1146.8L1918.4 1145.4L1920.9 1148.3L1923.3 1148.8L1925.8 1152.5L1928.2 1153.3L1930.5 1157.4L1932.9 1158.3L1935.2 1162.1L1937.6 1162.5L1939.9 1164.5L1942.2 1164.7L1944.6 1168.0L1946.9 1168.6L1949.2 1171.7L1951.5 1172.3L1953.8 1176.3L1956.1 1175.9L1958.4 1181.1L1960.7 1181.4L1963.0 1184.2L1965.3 1184.6L1967.7 1186.7L1970.0 1186.9L1972.3 1191.2L1974.6 1192.6L1976.9 1195.7L1979.6 1194.9L1982.2 1197.3L1984.8 1196.1L1987.5 1199.8L1990.1 1200.5L1992.7 1201.9L1995.2 1202.8L1997.6 1206.3L2000.0 1206.5L2002.4 1209.8L2004.8 1209.2L2007.2 1211.8L2009.6 1212.9L2012.0 1217.5L2014.4 1219.1L2016.9 1221.8L2019.3 1221.8L2021.7 1224.2L2024.1 1224.6L2026.5 1227.4L2029.0 1228.4L2031.6 1232.2L2034.1 1232.4L2036.7 1235.7L2039.3 1234.9L2041.8 1237.9L2044.4 1237.5L2047.0 1239.8L2049.5 1241.1L2052.1 1243.8L2054.7 1244.3L2057.3 1247.0L2059.9 1246.7L2062.4 1250.5L2065.0 1250.8L2067.5 1254.8L2070.1 1255.7L2072.6 1258.7L2075.2 1259.3L2077.7 1262.5L2080.4 1262.1L2083.1 1264.1L2085.8 1263.8L2088.5 1266.3L2091.3 1266.0L2094.0 1268.9L2096.7 1268.1L2099.5 1269.4L2102.3 1270.6L2105.1 1271.7L2108.0 1272.3L2111.0 1272.4L2114.0 1272.6L2117.0 1272.7L2120.0 1272.8L2123.0 1272.9L2126.0 1273.0L2129.0 1273.0L2132.0 1273.0L2135.0 1273.0" stroke="#EF3F3F" stroke-width="11"/>
</g>
</g>
<g fill="#000">
<path d="M352 43H2137V53H352Z"/><path d="M352 47H363V1283H352Z"/><path d="M2127 47H2137V1283H2127Z"/><path d="M357 43H2133V53H357Z"/><path d="M352 659H2137V670H352Z"/><path d="M357 1277H2133V1287H357Z"/>
</g>
<path d="M494.0 53V61M494.0 651V678M494.0 1277V1269M630.5 53V73M630.5 639V690M630.5 1277V1257M767.0 53V61M767.0 651V678M767.0 1277V1269M903.5 53V73M903.5 639V690M903.5 1277V1257M1040.0 53V61M1040.0 651V678M1040.0 1277V1269M1176.5 53V73M1176.5 639V690M1176.5 1277V1257M1313.0 53V61M1313.0 651V678M1313.0 1277V1269M1449.5 53V73M1449.5 639V690M1449.5 1277V1257M1586.0 53V61M1586.0 651V678M1586.0 1277V1269M1722.5 53V73M1722.5 639V690M1722.5 1277V1257M1859.0 53V61M1859.0 651V678M1859.0 1277V1269M1995.5 53V73M1995.5 639V690M1995.5 1277V1257M363 617.0H382M2127 617.0H2108M363 522.0H370M2127 522.0H2120M363 427.0H382M2127 427.0H2108M363 332.0H370M2127 332.0H2120M363 237.0H382M2127 237.0H2108M363 142.0H370M2127 142.0H2120M363 1272.0H382M2127 1272.0H2108M363 1187.7H370M2127 1187.7H2120M363 1103.4H382M2127 1103.4H2108M363 1019.1H370M2127 1019.1H2120M363 934.8H382M2127 934.8H2108M363 850.5H370M2127 850.5H2120M363 766.2H382M2127 766.2H2108M363 681.9H370M2127 681.9H2120" stroke="#000" stroke-width="10" fill="none"/>
<path d="M1466.5 108.5H1613.5" stroke="#505050" stroke-width="13" stroke-linecap="round"/><path d="M1468.5 189H1614.5" stroke="#EF3F3F" stroke-width="11" stroke-linecap="round"/><path d="M1464.5 713H1611" stroke="#505050" stroke-width="13" stroke-linecap="round"/><path d="M1466 796H1612" stroke="#EF3F3F" stroke-width="11" stroke-linecap="round"/>
<g font-size="91" fill="#000">
<text transform="translate(331.0 75.5) scale(1 1.030)" text-anchor="end">180</text><text transform="translate(331.0 265.5) scale(1 1.030)" text-anchor="end">120</text><text transform="translate(331.0 455.5) scale(1 1.030)" text-anchor="end">60</text><text transform="translate(331.0 645.5) scale(1 1.030)" text-anchor="end">0</text><text transform="translate(331.0 794.7) scale(1 1.030)" text-anchor="end">600</text><text transform="translate(331.0 963.3) scale(1 1.030)" text-anchor="end">400</text><text transform="translate(331.0 1131.9) scale(1 1.030)" text-anchor="end">200</text><text transform="translate(331.0 1300.5) scale(1 1.030)" text-anchor="end">0</text><text transform="translate(357.5 1379.0) scale(1 1.030)" text-anchor="middle">10:30</text><text transform="translate(630.5 1379.0) scale(1 1.030)" text-anchor="middle">11:30</text><text transform="translate(903.5 1379.0) scale(1 1.030)" text-anchor="middle">12:30</text><text transform="translate(1176.5 1379.0) scale(1 1.030)" text-anchor="middle">13:30</text><text transform="translate(1449.5 1379.0) scale(1 1.030)" text-anchor="middle">14:30</text><text transform="translate(1722.5 1379.0) scale(1 1.030)" text-anchor="middle">15:30</text><text transform="translate(1995.5 1379.0) scale(1 1.030)" text-anchor="middle">16:30</text><text transform="translate(1244 1521) scale(0.986 1)" text-anchor="middle">Time (hh:mm)</text><text transform="translate(392.0 155.0) scale(1 1.030)">(a<tspan dx="6">)</tspan></text><text transform="translate(393.0 773.0) scale(1 1.030)">(b<tspan dx="6">)</tspan></text><text transform="translate(100 334) rotate(-90) scale(0.986 1)" text-anchor="middle">NO<tspan font-size="61" dy="23">2</tspan><tspan dy="-23"> (ppbv)</tspan></text><text transform="translate(100 951) rotate(-90) scale(0.986 1)" text-anchor="middle">NO<tspan font-size="61" dy="23">3</tspan><tspan dy="-23"> (pptv)</tspan></text>
</g>
<g font-size="66" fill="#000">
<text x="1632" y="131">Raw data</text><text x="1632" y="211.5">Kalman filtering</text><text x="1630" y="737.3">Raw data</text><text x="1630" y="818.6">Kalman filtering</text>
</g>
</svg>
</body></html>
